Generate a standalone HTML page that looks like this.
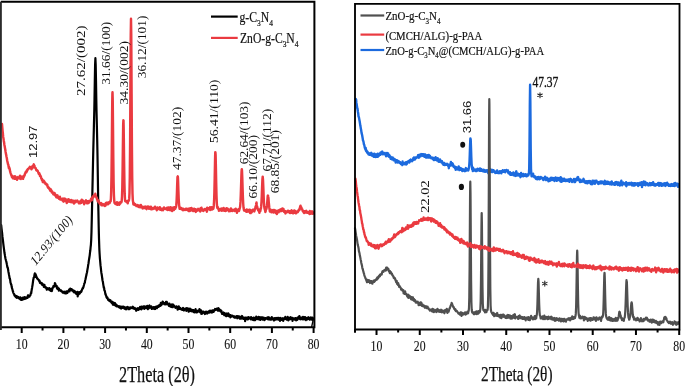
<!DOCTYPE html><html><head><meta charset="utf-8"><style>html,body{margin:0;padding:0;background:#fff;overflow:hidden}svg{display:block;filter:blur(0.35px)}.s{font-family:"Liberation Sans",sans-serif}.r{font-family:"Liberation Serif",serif}</style></head><body><svg width="685" height="386" viewBox="0 0 685 386"><rect width="685" height="386" fill="#fff"/><g fill="none" stroke-linejoin="round" stroke-linecap="round"><polyline stroke="#000" stroke-width="2.2" points="1.20,225.09 1.50,228.04 1.80,230.69 2.10,232.97 2.40,236.20 2.70,238.64 3.00,240.85 3.30,243.63 3.60,246.03 3.90,248.44 4.20,250.68 4.50,253.02 4.80,254.58 5.00,255.94 5.10,256.37 5.40,258.29 5.70,259.43 6.00,260.56 6.30,261.57 6.60,263.03 6.90,264.44 7.00,264.79 7.20,266.35 7.50,267.68 7.80,267.75 8.10,269.57 8.40,271.71 8.70,273.09 9.00,274.78 9.30,276.21 9.60,278.37 9.90,278.52 10.20,280.20 10.50,282.53 10.80,283.30 11.00,284.17 11.10,284.12 11.40,284.98 11.70,287.04 12.00,288.31 12.30,288.95 12.60,290.27 12.90,291.49 13.00,291.32 13.20,292.26 13.50,293.10 13.80,293.75 14.10,294.05 14.40,295.24 14.70,295.91 15.00,295.91 15.30,295.43 15.60,296.77 15.90,296.14 16.20,297.36 16.50,296.13 16.80,297.78 17.10,297.25 17.40,296.48 17.70,297.32 18.00,297.74 18.30,298.04 18.60,297.22 18.90,297.26 19.20,298.39 19.50,298.01 19.80,298.68 20.10,299.20 20.40,297.42 20.70,299.01 21.00,299.87 21.30,298.70 21.60,298.31 21.90,299.63 22.00,299.22 22.20,299.74 22.50,298.68 22.80,297.71 23.10,298.75 23.40,298.40 23.70,299.26 24.00,298.69 24.30,297.16 24.60,297.37 24.90,298.83 25.20,298.55 25.50,297.41 25.80,297.78 26.00,298.05 26.10,298.03 26.40,298.24 26.70,297.66 27.00,297.28 27.30,297.05 27.60,297.96 27.90,295.29 28.20,296.77 28.50,296.74 28.80,295.49 29.00,296.64 29.10,295.86 29.40,296.61 29.70,295.59 30.00,295.62 30.30,295.38 30.60,294.27 30.90,292.89 31.00,292.34 31.20,293.24 31.50,291.09 31.80,289.24 32.10,287.70 32.40,285.73 32.50,285.48 32.70,283.88 33.00,281.61 33.30,279.30 33.50,278.80 33.60,277.78 33.90,277.54 34.20,277.06 34.50,274.70 34.80,273.43 35.10,275.20 35.20,276.86 35.40,274.07 35.70,274.41 36.00,276.09 36.30,276.04 36.60,276.93 36.90,277.63 37.00,278.32 37.20,278.06 37.50,278.93 37.80,279.09 38.10,279.09 38.40,279.82 38.70,279.81 39.00,280.81 39.30,280.44 39.60,280.82 39.90,282.85 40.00,281.96 40.20,282.19 40.50,282.90 40.80,282.60 41.10,283.04 41.40,283.79 41.70,283.99 42.00,283.30 42.30,284.95 42.60,284.25 42.90,284.20 43.20,284.58 43.50,285.20 43.80,286.87 44.00,285.08 44.10,286.10 44.40,284.75 44.70,286.50 45.00,287.39 45.30,286.86 45.60,286.84 45.90,287.70 46.20,288.27 46.50,288.48 46.80,289.65 47.10,288.57 47.40,288.16 47.70,288.67 48.00,288.84 48.30,289.11 48.60,289.13 48.90,289.41 49.20,288.10 49.50,290.16 49.80,289.15 50.10,288.74 50.40,290.27 50.70,290.88 51.00,290.21 51.30,289.86 51.60,288.88 51.90,291.17 52.20,289.45 52.50,287.75 52.80,287.52 53.10,287.55 53.40,286.07 53.70,286.65 54.00,285.82 54.30,286.56 54.60,286.14 54.90,283.18 55.20,285.24 55.50,284.05 55.80,286.26 56.10,285.92 56.40,286.55 56.70,286.01 57.00,288.25 57.30,288.85 57.60,287.35 57.90,288.65 58.00,288.04 58.20,288.68 58.50,288.13 58.80,290.56 59.10,288.91 59.40,289.66 59.70,290.49 60.00,289.96 60.30,290.50 60.60,290.51 60.90,291.04 61.20,290.49 61.50,291.21 61.80,291.55 62.00,291.55 62.10,291.89 62.40,291.76 62.70,292.70 63.00,292.02 63.30,292.29 63.60,292.01 63.90,292.24 64.20,291.77 64.50,293.26 64.80,292.02 65.10,292.40 65.40,293.35 65.70,293.42 66.00,292.76 66.30,291.44 66.60,293.27 66.90,292.97 67.20,291.56 67.50,292.83 67.80,291.53 68.10,290.94 68.40,291.42 68.70,290.91 69.00,290.84 69.30,289.30 69.60,291.37 69.90,289.43 70.20,288.51 70.50,289.98 70.80,289.13 71.00,289.68 71.10,289.13 71.40,289.44 71.70,289.83 72.00,289.36 72.30,290.63 72.60,290.16 72.90,290.21 73.20,291.16 73.50,291.71 73.80,291.50 74.00,291.17 74.10,292.32 74.40,290.77 74.70,291.51 75.00,292.49 75.30,291.67 75.60,292.88 75.90,293.01 76.20,293.90 76.50,292.69 76.80,293.04 77.10,293.90 77.40,291.75 77.70,296.34 78.00,293.21 78.30,293.18 78.60,294.36 78.90,293.53 79.20,292.09 79.50,293.64 79.80,293.55 80.10,292.38 80.40,292.21 80.70,292.44 81.00,291.20 81.30,291.70 81.60,291.06 81.90,289.99 82.20,288.96 82.50,288.90 82.80,287.83 83.00,288.32 83.10,287.62 83.40,287.12 83.70,285.91 84.00,285.01 84.30,283.51 84.60,283.09 84.90,282.46 85.00,281.17 85.20,280.26 85.50,279.20 85.80,277.75 86.10,276.27 86.40,275.13 86.70,273.45 87.00,272.52 87.30,270.36 87.60,268.71 87.90,267.09 88.20,264.80 88.50,263.48 88.80,260.93 89.10,259.05 89.40,257.29 89.70,255.30 90.00,252.60 90.30,250.53 90.60,247.45 90.90,244.77 91.20,239.99 91.50,231.43 91.80,218.47 92.10,204.38 92.20,199.98 92.40,191.14 92.70,177.28 93.00,163.33 93.30,149.96 93.60,137.92 93.90,126.33 94.20,114.25 94.30,110.03 94.50,99.57 94.80,81.04 95.10,64.75 95.40,58.19 95.70,64.73 96.00,80.50 96.30,99.33 96.50,109.93 96.60,114.52 96.90,127.10 97.20,140.20 97.40,150.01 97.50,155.57 97.80,174.67 98.10,194.14 98.20,199.97 98.40,211.14 98.70,226.55 98.90,234.86 99.00,238.69 99.30,247.82 99.40,250.12 99.60,253.59 99.90,258.33 100.20,261.61 100.50,265.14 100.80,267.70 101.10,270.54 101.40,272.92 101.70,274.49 102.00,276.69 102.20,278.01 102.30,279.03 102.60,280.74 102.90,281.85 103.20,284.12 103.50,285.83 103.80,287.87 104.00,287.34 104.10,288.25 104.40,290.37 104.70,290.58 105.00,291.82 105.30,293.65 105.50,294.51 105.60,293.93 105.90,295.33 106.20,295.83 106.50,297.27 106.80,297.04 107.10,298.19 107.40,297.57 107.70,298.47 108.00,298.94 108.30,300.12 108.60,300.10 108.90,299.50 109.20,300.77 109.50,301.10 109.80,300.75 110.00,300.82 110.10,300.95 110.40,300.16 110.70,301.73 111.00,302.02 111.30,301.49 111.60,302.87 111.90,301.61 112.20,302.43 112.50,302.71 112.80,304.70 113.10,302.34 113.40,304.11 113.70,304.59 114.00,304.38 114.30,305.16 114.60,303.73 114.90,302.94 115.00,305.27 115.20,303.92 115.50,304.73 115.80,304.26 116.10,306.09 116.40,306.11 116.70,305.08 117.00,306.45 117.30,306.01 117.60,305.95 117.90,306.24 118.20,306.17 118.50,306.92 118.80,306.80 119.10,306.38 119.40,307.55 119.70,306.34 120.00,307.13 120.30,307.30 120.60,308.22 120.90,306.68 121.20,308.56 121.50,307.35 121.80,307.11 122.10,306.77 122.40,307.85 122.70,307.45 123.00,306.55 123.30,306.56 123.60,307.07 123.90,306.99 124.20,308.49 124.50,308.75 124.80,308.33 125.00,307.90 125.10,307.24 125.40,307.65 125.70,308.35 126.00,309.41 126.30,308.38 126.60,307.36 126.90,307.63 127.20,307.19 127.50,306.93 127.80,307.44 128.10,307.77 128.40,309.16 128.70,307.64 129.00,308.75 129.30,309.10 129.60,307.67 129.90,308.97 130.00,308.21 130.20,307.25 130.50,307.84 130.80,307.65 131.10,307.47 131.40,307.53 131.70,307.86 132.00,308.14 132.30,307.12 132.60,307.89 132.90,306.73 133.20,308.23 133.50,308.59 133.80,308.28 134.10,308.45 134.40,308.76 134.70,307.80 135.00,308.21 135.30,308.88 135.60,309.34 135.90,308.95 136.20,310.74 136.50,308.75 136.80,309.70 137.10,310.00 137.40,308.94 137.70,308.40 138.00,308.10 138.30,309.21 138.60,309.90 138.90,309.13 139.20,308.93 139.50,308.37 139.80,308.93 140.10,306.74 140.40,308.36 140.70,308.05 141.00,306.84 141.30,309.46 141.60,306.57 141.90,306.73 142.00,306.61 142.20,308.50 142.50,306.82 142.80,308.08 143.10,307.99 143.40,307.69 143.70,306.36 144.00,306.92 144.30,308.80 144.60,306.31 144.90,306.67 145.20,307.21 145.50,308.01 145.80,307.53 146.10,307.92 146.40,306.39 146.70,308.07 147.00,307.74 147.30,305.90 147.60,308.54 147.90,309.16 148.20,306.57 148.50,307.26 148.80,308.39 149.10,305.95 149.40,305.51 149.70,306.10 150.00,306.72 150.30,306.72 150.60,307.74 150.90,307.49 151.20,306.30 151.50,307.83 151.80,308.95 152.10,308.47 152.40,308.37 152.70,307.66 153.00,308.51 153.30,307.01 153.60,308.46 153.90,307.83 154.20,308.88 154.50,308.37 154.80,307.08 155.00,308.11 155.10,309.02 155.40,307.04 155.70,307.43 156.00,307.15 156.30,306.47 156.60,308.11 156.90,308.17 157.20,307.59 157.50,306.99 157.80,306.58 158.00,306.68 158.10,305.90 158.40,306.89 158.70,306.76 159.00,306.43 159.30,305.14 159.60,305.29 159.90,304.85 160.20,305.93 160.50,304.54 160.80,302.84 161.10,304.21 161.40,305.09 161.70,304.04 162.00,304.06 162.30,303.30 162.60,301.58 162.80,301.67 162.90,302.15 163.20,303.11 163.50,303.51 163.80,303.87 164.10,303.11 164.40,304.22 164.70,303.34 165.00,303.11 165.30,304.43 165.60,303.18 165.90,301.89 166.20,303.30 166.50,304.31 166.80,301.94 167.10,304.17 167.40,304.28 167.70,303.49 168.00,303.51 168.30,304.39 168.60,304.37 168.90,305.90 169.20,305.23 169.50,303.67 169.80,304.31 170.10,305.63 170.40,306.65 170.70,305.47 171.00,305.45 171.30,306.77 171.60,305.29 171.90,305.13 172.00,304.26 172.20,305.04 172.50,307.26 172.80,304.49 173.10,305.72 173.40,304.71 173.70,306.01 174.00,306.72 174.30,305.95 174.60,306.82 174.90,306.93 175.20,306.85 175.50,307.95 175.80,307.35 176.10,306.64 176.40,306.47 176.70,306.46 177.00,307.60 177.30,307.10 177.60,309.59 177.90,309.01 178.00,307.43 178.20,307.41 178.50,309.09 178.80,306.41 179.10,307.63 179.40,308.84 179.70,307.49 180.00,307.94 180.30,308.15 180.60,309.05 180.90,308.75 181.20,309.06 181.50,309.32 181.80,308.98 182.10,309.92 182.40,308.57 182.70,308.11 183.00,307.92 183.30,308.13 183.60,309.06 183.90,310.40 184.20,309.78 184.50,309.22 184.80,308.90 185.00,309.37 185.10,309.49 185.40,309.40 185.70,308.73 186.00,309.56 186.30,310.82 186.60,308.22 186.90,309.85 187.20,308.33 187.50,310.27 187.80,309.52 188.10,308.44 188.40,310.28 188.70,311.73 189.00,310.34 189.30,311.24 189.60,310.25 189.90,308.55 190.20,310.77 190.50,310.05 190.80,309.23 191.10,311.12 191.40,310.75 191.70,310.12 192.00,311.31 192.30,309.95 192.60,311.24 192.90,310.04 193.20,311.29 193.50,310.07 193.80,312.21 194.10,311.30 194.40,312.32 194.70,310.58 195.00,310.91 195.30,312.04 195.60,309.16 195.90,310.58 196.20,312.34 196.50,311.92 196.80,312.39 197.10,311.37 197.40,312.13 197.70,311.11 198.00,310.62 198.30,310.39 198.60,311.37 198.90,311.41 199.20,311.38 199.50,309.01 199.80,310.33 200.00,311.56 200.10,312.25 200.40,311.58 200.70,311.38 201.00,310.26 201.30,313.85 201.60,311.34 201.90,313.66 202.20,313.61 202.50,312.61 202.80,311.95 203.10,312.57 203.40,311.55 203.70,312.75 204.00,312.56 204.30,313.02 204.60,313.39 204.90,314.07 205.00,312.27 205.20,313.48 205.50,311.92 205.80,311.83 206.10,312.05 206.40,311.73 206.70,313.33 207.00,313.26 207.30,313.51 207.60,312.40 207.90,312.61 208.20,311.86 208.50,311.35 208.80,312.61 209.10,312.41 209.40,311.24 209.70,312.55 210.00,310.61 210.30,311.82 210.60,311.39 210.90,311.41 211.20,310.90 211.50,312.48 211.80,312.10 212.00,312.55 212.10,311.68 212.40,310.47 212.70,311.09 213.00,310.34 213.30,311.44 213.60,311.84 213.90,311.01 214.20,310.15 214.50,310.14 214.80,310.39 215.10,308.99 215.40,310.01 215.70,309.89 216.00,309.18 216.30,309.14 216.60,309.49 216.90,308.61 217.20,308.54 217.50,309.84 217.60,309.37 217.80,310.57 218.10,308.52 218.40,308.11 218.70,310.31 219.00,310.54 219.30,309.65 219.60,309.47 219.90,310.75 220.20,309.95 220.50,311.22 220.80,310.30 221.10,311.91 221.40,310.86 221.70,312.41 222.00,313.90 222.30,312.74 222.60,313.68 222.90,312.77 223.20,312.73 223.50,312.42 223.80,314.49 224.10,313.79 224.40,315.21 224.70,313.19 225.00,314.04 225.30,314.40 225.60,315.55 225.90,315.98 226.20,314.17 226.50,313.89 226.80,313.52 227.10,316.03 227.40,315.01 227.70,314.66 228.00,315.22 228.30,313.32 228.60,314.07 228.90,316.26 229.20,315.92 229.50,315.80 229.80,314.97 230.10,316.31 230.40,317.34 230.70,315.01 231.00,316.08 231.30,315.79 231.60,316.50 231.90,316.29 232.20,316.22 232.50,315.69 232.80,316.45 233.10,316.03 233.40,316.46 233.70,316.59 234.00,317.23 234.30,316.27 234.60,316.53 234.90,317.72 235.00,316.68 235.20,316.67 235.50,317.64 235.80,317.20 236.10,317.09 236.40,317.24 236.70,316.09 237.00,317.53 237.30,318.28 237.60,317.71 237.90,315.99 238.20,317.55 238.50,316.61 238.80,317.20 239.10,317.54 239.40,316.48 239.70,318.61 240.00,317.48 240.30,318.23 240.60,318.13 240.90,318.75 241.20,318.66 241.50,316.48 241.80,317.77 242.10,315.98 242.40,317.41 242.70,318.41 243.00,318.60 243.30,318.94 243.60,317.57 243.90,318.17 244.20,318.01 244.50,319.00 244.80,319.29 245.00,317.67 245.10,321.15 245.40,317.99 245.70,317.70 246.00,318.53 246.30,318.68 246.60,318.51 246.90,317.52 247.20,319.32 247.50,318.14 247.80,319.40 248.10,319.29 248.40,317.06 248.70,317.32 249.00,317.32 249.30,318.38 249.60,318.23 249.90,318.42 250.20,317.52 250.50,318.58 250.80,319.41 251.10,317.11 251.40,318.08 251.70,318.47 252.00,318.16 252.30,318.11 252.60,319.78 252.90,319.38 253.20,319.02 253.50,317.67 253.80,320.21 254.10,318.63 254.40,317.85 254.70,318.06 255.00,317.94 255.30,320.15 255.60,318.54 255.90,318.43 256.20,316.57 256.50,319.02 256.80,317.51 257.10,317.46 257.40,318.94 257.70,317.70 258.00,319.14 258.30,319.39 258.60,316.94 258.90,318.34 259.20,317.14 259.50,318.42 259.80,319.25 260.00,317.34 260.10,320.01 260.40,318.24 260.70,317.51 261.00,318.41 261.30,319.19 261.60,317.37 261.90,318.55 262.20,317.39 262.50,319.58 262.80,318.70 263.10,318.22 263.40,319.46 263.70,317.51 264.00,318.28 264.30,320.18 264.60,318.53 264.90,319.78 265.20,318.81 265.50,318.07 265.80,318.46 266.10,318.74 266.40,318.34 266.70,318.00 267.00,318.05 267.30,317.47 267.60,318.82 267.90,319.07 268.20,319.38 268.50,317.23 268.80,319.45 269.10,318.76 269.40,317.58 269.70,318.88 270.00,319.49 270.30,319.25 270.60,319.43 270.90,319.63 271.20,319.59 271.50,318.82 271.80,317.10 272.10,318.22 272.40,319.17 272.70,318.48 273.00,319.47 273.30,319.57 273.60,318.94 273.90,320.50 274.20,318.09 274.50,319.71 274.80,318.53 275.10,318.27 275.40,319.44 275.70,318.42 276.00,319.68 276.30,317.97 276.60,318.99 276.90,318.25 277.20,318.77 277.50,318.65 277.80,318.02 278.10,319.53 278.40,317.92 278.70,318.15 279.00,319.74 279.30,319.81 279.60,319.55 279.90,319.27 280.00,320.92 280.20,317.96 280.50,318.35 280.80,318.14 281.10,319.75 281.40,319.23 281.70,319.92 282.00,319.80 282.30,318.79 282.60,318.28 282.90,318.13 283.20,320.84 283.50,319.79 283.80,319.46 284.10,318.67 284.40,318.79 284.70,318.66 285.00,318.67 285.30,316.91 285.60,318.88 285.90,318.61 286.20,319.17 286.50,319.10 286.80,319.63 287.10,318.90 287.40,319.58 287.70,316.73 288.00,317.96 288.30,320.34 288.60,317.84 288.90,318.63 289.20,319.46 289.50,318.11 289.80,319.46 290.10,317.63 290.40,317.22 290.70,317.70 291.00,317.42 291.30,318.79 291.60,318.53 291.90,319.07 292.20,317.91 292.50,320.92 292.80,318.69 293.10,318.72 293.40,319.14 293.70,318.54 294.00,318.20 294.30,318.80 294.60,319.50 294.90,319.28 295.20,319.50 295.50,318.22 295.80,318.04 296.10,320.38 296.40,318.47 296.70,319.07 297.00,319.28 297.30,319.85 297.60,317.50 297.90,318.23 298.20,318.27 298.50,318.37 298.80,316.58 299.10,318.53 299.40,316.16 299.70,318.85 300.00,319.05 300.30,319.09 300.60,317.56 300.90,319.38 301.20,317.84 301.50,317.52 301.80,317.72 302.10,317.83 302.40,318.69 302.70,319.23 303.00,316.75 303.30,318.06 303.60,319.28 303.90,318.68 304.20,318.93 304.50,317.23 304.80,319.30 305.10,317.16 305.40,318.64 305.70,319.62 306.00,320.05 306.30,318.89 306.60,319.20 306.90,317.93 307.20,318.03 307.50,319.42 307.80,318.43 308.10,318.31 308.40,317.22 308.70,318.53 309.00,318.94 309.30,317.72 309.60,317.95 309.90,319.71 310.20,318.52 310.50,318.12 310.80,317.39 311.10,317.82 311.40,318.13 311.70,319.49 312.00,317.81 312.30,319.83 312.60,317.53 312.90,318.00 313.00,319.01"/><polyline stroke="#ea3a40" stroke-width="2.45" points="2.00,124.04 2.30,127.63 2.60,131.05 2.90,133.48 3.00,135.48 3.20,136.94 3.50,138.65 3.80,140.96 4.00,142.09 4.10,142.47 4.40,144.89 4.70,146.33 5.00,148.15 5.30,149.77 5.60,151.93 5.90,153.41 6.00,154.19 6.20,154.87 6.50,156.76 6.80,157.99 7.10,160.18 7.40,161.42 7.70,162.86 8.00,164.17 8.30,164.71 8.60,166.59 8.90,168.21 9.20,167.45 9.50,168.33 9.80,169.36 10.00,171.10 10.10,171.07 10.40,172.52 10.70,173.41 11.00,174.21 11.30,175.17 11.60,175.69 11.90,176.86 12.00,175.62 12.20,176.26 12.50,176.97 12.80,178.32 13.10,176.63 13.40,176.55 13.70,177.07 14.00,178.38 14.30,177.52 14.60,178.85 14.90,176.22 15.00,178.75 15.20,178.68 15.50,176.59 15.80,177.93 16.10,178.83 16.40,177.87 16.70,178.65 17.00,179.82 17.30,178.03 17.60,177.56 17.90,177.14 18.20,178.35 18.50,177.63 18.80,177.64 19.00,177.71 19.10,178.35 19.40,176.89 19.70,176.50 20.00,175.73 20.30,178.77 20.60,177.81 20.90,178.99 21.20,177.70 21.50,177.06 21.80,178.05 22.10,177.55 22.40,176.55 22.70,176.81 23.00,178.89 23.30,177.59 23.60,177.27 23.90,176.35 24.20,175.52 24.50,175.70 24.80,174.45 25.10,173.38 25.40,173.03 25.70,171.97 26.00,172.11 26.30,172.28 26.60,170.62 26.90,171.65 27.20,169.91 27.50,170.06 27.80,169.05 28.10,169.13 28.40,169.01 28.70,168.41 29.00,167.99 29.30,167.81 29.60,167.53 29.90,166.80 30.20,167.67 30.50,168.05 30.80,168.33 31.10,168.01 31.40,169.27 31.70,167.49 32.00,166.76 32.30,168.26 32.60,165.94 32.90,167.13 33.20,165.52 33.50,166.30 33.80,164.34 34.00,166.65 34.10,165.79 34.40,165.50 34.70,167.58 35.00,167.59 35.30,167.83 35.60,168.04 35.90,169.01 36.00,169.10 36.20,169.95 36.50,170.44 36.80,169.97 37.10,170.47 37.40,170.91 37.70,170.82 38.00,171.72 38.30,172.45 38.60,173.34 38.90,174.12 39.20,173.15 39.50,174.43 39.80,174.28 40.00,176.10 40.10,175.06 40.40,176.04 40.70,176.14 41.00,177.09 41.30,178.45 41.60,178.92 41.90,179.95 42.00,178.93 42.20,180.59 42.50,179.93 42.80,182.02 43.10,180.92 43.40,182.15 43.70,180.63 44.00,182.16 44.30,181.48 44.60,182.04 44.90,182.70 45.00,182.58 45.20,183.20 45.50,183.89 45.80,184.23 46.10,184.19 46.40,183.83 46.70,184.63 47.00,185.45 47.30,184.69 47.60,186.92 47.90,186.71 48.00,186.83 48.20,187.86 48.50,188.08 48.80,188.20 49.10,187.82 49.40,189.05 49.70,189.47 50.00,189.06 50.30,190.69 50.60,190.72 50.90,189.46 51.20,191.19 51.50,190.61 51.80,192.54 52.00,192.54 52.10,191.35 52.40,191.80 52.70,192.77 53.00,192.83 53.30,194.33 53.60,194.07 53.90,193.64 54.20,194.50 54.50,192.94 54.80,194.83 55.10,195.48 55.40,194.99 55.70,194.85 56.00,195.99 56.30,197.22 56.60,196.21 56.90,195.50 57.20,197.57 57.50,195.42 57.80,197.35 58.10,196.79 58.40,198.10 58.70,197.01 59.00,198.79 59.30,198.23 59.60,196.89 59.90,196.85 60.00,198.15 60.20,199.47 60.50,198.73 60.80,198.83 61.10,198.73 61.40,199.61 61.70,199.46 62.00,199.51 62.30,198.65 62.60,200.45 62.90,200.70 63.20,198.73 63.50,201.65 63.80,200.51 64.10,199.65 64.40,198.62 64.70,200.73 65.00,200.74 65.30,199.89 65.60,199.01 65.90,201.42 66.20,200.11 66.50,200.27 66.80,203.01 67.10,202.49 67.40,201.60 67.70,200.52 68.00,201.47 68.30,199.14 68.60,201.14 68.90,200.49 69.20,200.11 69.50,199.91 69.80,201.68 70.00,201.36 70.10,201.44 70.40,202.04 70.70,200.72 71.00,200.46 71.30,200.08 71.60,201.31 71.90,202.25 72.20,201.57 72.50,202.26 72.80,200.82 73.10,201.45 73.40,201.24 73.70,200.88 74.00,203.49 74.30,202.68 74.60,201.34 74.90,201.34 75.00,201.94 75.20,200.76 75.50,202.36 75.80,200.89 76.10,201.67 76.40,201.11 76.70,201.58 77.00,200.85 77.30,200.65 77.60,201.16 77.90,201.41 78.20,201.73 78.50,202.04 78.80,203.28 79.10,202.67 79.40,201.77 79.70,202.60 80.00,201.40 80.30,203.21 80.60,202.45 80.90,200.83 81.20,202.62 81.50,202.68 81.80,199.70 82.10,201.35 82.40,201.58 82.70,200.34 83.00,201.07 83.30,201.17 83.60,202.41 83.90,202.23 84.20,204.21 84.50,201.64 84.80,202.96 85.10,202.05 85.40,202.21 85.70,200.99 86.00,200.35 86.30,201.32 86.60,202.62 86.90,203.32 87.20,202.49 87.50,202.40 87.80,201.26 88.00,203.27 88.10,203.09 88.40,201.49 88.70,201.77 89.00,200.90 89.30,202.49 89.60,201.49 89.90,200.88 90.20,200.96 90.50,200.71 90.80,199.85 91.00,199.10 91.10,198.99 91.40,198.42 91.70,199.50 92.00,200.19 92.30,197.31 92.60,197.98 92.90,197.68 93.20,196.37 93.50,196.67 93.80,195.43 94.10,196.60 94.40,195.09 94.70,195.38 95.00,195.73 95.20,194.80 95.30,193.81 95.60,195.19 95.90,196.54 96.20,196.89 96.50,197.89 96.80,197.95 97.00,199.03 97.10,199.55 97.40,199.65 97.70,201.28 98.00,200.46 98.30,200.37 98.60,200.40 98.90,202.57 99.00,201.89 99.20,202.83 99.50,202.80 99.80,203.90 100.10,203.96 100.40,203.09 100.70,203.80 101.00,204.60 101.30,203.11 101.60,205.27 101.90,205.30 102.20,205.33 102.50,204.64 102.80,205.18 103.10,204.21 103.40,205.22 103.70,204.75 104.00,205.33 104.30,204.82 104.60,205.38 104.90,205.97 105.20,203.93 105.50,205.48 105.80,203.13 106.10,202.84 106.40,204.20 106.70,204.14 107.00,204.32 107.30,202.60 107.60,203.62 107.90,203.57 108.20,204.22 108.50,203.05 108.80,203.38 109.00,202.14 109.10,202.72 109.40,202.40 109.70,203.10 110.00,201.69 110.30,201.53 110.60,201.29 110.90,198.78 111.20,191.32 111.50,175.19 111.80,147.88 112.10,115.40 112.25,101.96 112.40,93.84 112.50,92.29 112.70,98.51 112.75,102.00 113.00,126.11 113.30,158.33 113.60,182.25 113.90,195.06 114.20,200.07 114.50,202.98 114.80,203.17 115.10,202.80 115.40,203.99 115.70,203.88 116.00,203.51 116.30,202.71 116.60,204.35 116.90,204.62 117.00,202.25 117.20,204.85 117.50,204.79 117.80,203.82 118.10,204.08 118.40,203.61 118.70,203.03 119.00,203.32 119.30,204.69 119.60,202.36 119.90,203.66 120.20,203.53 120.50,202.73 120.80,202.79 121.00,201.99 121.10,202.30 121.40,202.34 121.70,200.99 122.00,196.78 122.30,187.47 122.60,169.27 122.90,144.97 123.15,126.74 123.20,124.12 123.40,120.29 123.50,120.38 123.65,126.73 123.80,136.83 124.10,161.25 124.40,181.91 124.70,193.91 125.00,199.94 125.30,201.15 125.60,201.35 125.90,200.75 126.20,201.25 126.50,201.85 126.80,201.50 127.00,201.31 127.10,201.75 127.40,202.11 127.70,203.33 128.00,200.80 128.30,201.49 128.60,200.99 128.90,200.26 129.20,198.65 129.50,192.74 129.80,176.77 130.10,143.54 130.40,93.10 130.70,41.72 130.75,35.11 131.00,18.69 131.25,35.22 131.30,41.82 131.60,93.39 131.90,143.97 132.20,177.29 132.50,193.45 132.80,200.08 133.10,201.97 133.40,204.45 133.70,202.88 134.00,204.22 134.30,203.66 134.60,204.40 134.90,205.05 135.20,204.07 135.50,204.77 135.80,205.13 136.00,205.20 136.10,205.62 136.40,206.09 136.70,206.10 137.00,205.82 137.30,205.51 137.60,205.07 137.90,205.51 138.20,205.80 138.50,206.86 138.80,206.18 139.10,205.60 139.40,207.17 139.70,206.12 140.00,206.21 140.30,206.70 140.60,207.33 140.90,205.03 141.20,206.13 141.50,207.24 141.80,206.84 142.10,206.47 142.40,206.78 142.70,208.41 143.00,206.93 143.30,207.93 143.60,208.03 143.90,207.03 144.20,207.81 144.50,207.09 144.80,206.99 145.10,206.59 145.40,208.28 145.70,207.25 146.00,207.15 146.30,206.70 146.60,209.16 146.90,208.30 147.20,207.60 147.50,207.15 147.80,206.48 148.10,208.03 148.40,208.05 148.70,206.66 149.00,208.82 149.30,208.53 149.60,207.11 149.90,207.48 150.00,207.59 150.20,208.10 150.50,207.87 150.80,206.66 151.10,209.28 151.40,208.35 151.70,209.16 152.00,209.18 152.30,208.00 152.60,208.49 152.90,208.85 153.20,208.91 153.50,208.16 153.80,207.82 154.10,208.39 154.40,207.72 154.70,207.96 155.00,206.76 155.30,208.55 155.60,207.65 155.90,208.07 156.20,208.51 156.50,208.84 156.80,210.18 157.10,208.80 157.40,207.47 157.70,208.78 158.00,208.19 158.30,209.04 158.60,208.14 158.90,208.13 159.20,208.31 159.50,208.22 159.80,207.22 160.00,208.20 160.10,208.75 160.40,209.79 160.70,208.53 161.00,208.46 161.30,209.27 161.60,209.24 161.90,210.14 162.20,209.29 162.50,208.78 162.80,209.93 163.10,210.10 163.40,208.40 163.70,208.94 164.00,207.38 164.30,208.50 164.60,208.06 164.90,208.63 165.20,208.40 165.50,208.67 165.80,208.72 166.10,209.23 166.40,209.01 166.70,208.34 167.00,207.72 167.30,209.86 167.60,210.02 167.90,208.43 168.20,209.29 168.50,207.52 168.80,207.49 169.10,208.59 169.40,210.07 169.70,207.93 170.00,208.11 170.30,210.18 170.60,207.21 170.90,209.36 171.20,209.23 171.50,208.64 171.80,208.97 172.10,211.02 172.40,207.84 172.70,208.52 173.00,208.58 173.30,208.18 173.60,207.62 173.90,210.04 174.20,208.86 174.50,207.21 174.80,208.01 175.10,208.79 175.40,208.61 175.70,207.17 176.00,207.12 176.30,205.16 176.60,200.83 176.90,193.57 177.20,184.19 177.45,178.05 177.50,176.89 177.70,176.59 177.80,176.32 177.95,177.78 178.10,181.35 178.40,190.71 178.70,198.73 179.00,203.97 179.30,206.44 179.60,208.79 179.90,208.11 180.20,207.58 180.50,208.40 180.80,207.92 181.10,209.04 181.40,208.63 181.70,208.16 182.00,209.56 182.30,208.57 182.60,209.73 182.90,210.21 183.20,208.89 183.50,208.67 183.80,209.40 184.10,210.00 184.40,209.27 184.70,209.41 185.00,209.29 185.30,209.59 185.60,209.87 185.90,208.77 186.20,208.97 186.50,209.43 186.80,208.84 187.10,209.53 187.40,209.88 187.70,209.43 188.00,208.95 188.30,208.82 188.60,210.96 188.90,210.24 189.20,208.58 189.50,208.82 189.80,211.12 190.00,210.82 190.10,209.67 190.40,210.55 190.70,208.34 191.00,209.61 191.30,210.24 191.60,208.08 191.90,209.01 192.20,210.33 192.50,210.65 192.80,209.22 193.10,209.98 193.40,211.10 193.70,209.46 194.00,208.69 194.30,209.77 194.60,209.51 194.90,210.95 195.20,210.01 195.50,209.23 195.80,211.93 196.10,209.51 196.40,210.35 196.70,210.53 197.00,210.64 197.30,210.14 197.60,210.50 197.90,209.96 198.20,208.83 198.50,209.85 198.80,209.87 199.10,209.90 199.40,210.17 199.70,209.52 200.00,211.18 200.30,211.38 200.60,208.19 200.90,210.04 201.20,209.42 201.50,207.82 201.80,210.33 202.10,209.45 202.40,209.63 202.70,209.37 203.00,210.79 203.30,210.89 203.60,210.06 203.90,210.37 204.20,209.67 204.50,209.85 204.80,209.08 205.10,209.69 205.40,209.04 205.70,209.90 206.00,210.24 206.30,209.78 206.60,210.47 206.90,211.68 207.20,207.68 207.50,209.40 207.80,208.89 208.10,208.95 208.40,208.17 208.70,209.31 209.00,209.03 209.30,208.69 209.60,208.98 209.90,208.68 210.00,207.21 210.20,210.04 210.50,208.87 210.80,208.30 211.10,209.30 211.40,208.46 211.70,207.19 212.00,209.57 212.30,207.46 212.60,208.47 212.90,208.53 213.20,208.89 213.50,207.81 213.80,205.42 214.10,200.68 214.40,191.73 214.70,177.98 215.00,162.49 215.15,156.15 215.30,152.16 215.40,152.36 215.60,154.48 215.65,156.08 215.90,167.38 216.20,183.07 216.50,195.45 216.80,202.99 217.10,206.73 217.40,208.07 217.70,206.98 218.00,207.53 218.30,209.03 218.60,209.00 218.90,210.86 219.20,209.23 219.50,209.21 219.80,210.16 220.10,210.32 220.40,209.30 220.70,209.93 221.00,208.64 221.30,208.83 221.60,210.67 221.90,208.51 222.20,210.47 222.50,210.29 222.80,210.40 223.10,210.54 223.40,210.27 223.70,208.03 224.00,209.00 224.30,209.35 224.60,210.64 224.90,208.94 225.00,209.30 225.20,209.60 225.50,211.03 225.80,208.72 226.10,208.81 226.40,210.49 226.70,208.19 227.00,210.27 227.30,209.62 227.60,208.69 227.90,209.67 228.20,209.19 228.50,210.19 228.80,210.36 229.10,211.32 229.40,210.07 229.70,210.18 230.00,209.61 230.30,210.09 230.60,211.01 230.90,208.51 231.20,210.70 231.50,209.70 231.80,210.22 232.10,210.44 232.40,210.90 232.70,210.39 233.00,209.86 233.30,210.47 233.60,210.22 233.90,210.04 234.20,210.40 234.50,210.97 234.80,210.35 235.00,210.37 235.10,209.15 235.40,210.13 235.70,208.67 236.00,210.86 236.30,209.45 236.60,211.34 236.90,212.76 237.20,209.89 237.50,211.32 237.80,210.52 238.10,209.69 238.40,209.42 238.70,210.47 239.00,210.97 239.30,209.96 239.60,208.48 239.90,207.91 240.20,206.01 240.50,201.91 240.80,194.61 241.10,185.14 241.40,175.69 241.55,171.90 241.70,169.76 241.80,169.21 242.00,170.76 242.05,172.04 242.30,178.65 242.60,188.65 242.90,197.30 243.20,203.53 243.50,207.49 243.80,209.15 244.10,210.60 244.40,209.59 244.70,210.53 245.00,209.99 245.30,210.86 245.60,210.31 245.90,211.19 246.20,211.70 246.50,211.41 246.80,209.39 247.10,211.70 247.40,211.32 247.70,210.08 248.00,210.23 248.30,210.99 248.60,211.48 248.90,210.62 249.20,209.63 249.50,211.24 249.80,211.15 250.10,213.08 250.40,209.91 250.70,213.14 251.00,212.47 251.30,211.25 251.60,212.38 251.90,211.05 252.00,211.79 252.20,210.34 252.50,211.01 252.80,210.07 253.10,209.59 253.40,210.62 253.70,210.26 254.00,211.12 254.30,211.40 254.60,210.08 254.90,209.67 255.20,208.89 255.50,206.95 255.80,206.40 256.10,205.03 256.25,204.53 256.40,203.54 256.50,202.55 256.70,204.28 256.75,204.70 257.00,205.96 257.30,207.15 257.60,208.60 257.90,209.18 258.20,210.37 258.50,209.98 258.80,210.81 259.10,211.19 259.40,212.71 259.70,210.60 260.00,209.35 260.30,211.02 260.60,209.23 260.90,208.53 261.20,206.16 261.50,201.78 261.80,195.48 262.10,187.31 262.40,179.95 262.45,179.17 262.70,176.67 262.95,179.26 263.00,179.98 263.30,187.15 263.60,195.23 263.90,201.84 264.20,206.27 264.50,208.20 264.80,209.55 265.10,210.34 265.40,212.06 265.70,210.88 266.00,208.09 266.30,209.17 266.60,208.00 266.90,205.95 267.20,202.94 267.50,199.09 267.75,195.77 267.80,196.24 268.00,195.61 268.10,195.89 268.25,196.92 268.40,197.61 268.70,201.71 269.00,204.64 269.30,207.73 269.60,209.52 269.90,211.49 270.20,210.13 270.50,209.50 270.80,211.43 271.10,210.40 271.40,212.27 271.70,210.43 272.00,210.32 272.30,212.11 272.60,211.17 272.90,211.96 273.20,209.97 273.50,212.55 273.80,210.73 274.10,211.92 274.40,210.44 274.70,210.02 275.00,211.13 275.30,211.51 275.60,212.71 275.90,211.72 276.20,212.05 276.50,212.03 276.80,214.11 277.10,210.81 277.40,212.57 277.70,211.37 278.00,211.67 278.30,210.96 278.60,212.24 278.90,210.25 279.20,210.07 279.50,210.74 279.80,209.85 280.00,211.04 280.10,211.11 280.40,209.69 280.70,210.56 281.00,209.30 281.30,209.60 281.55,209.56 281.60,211.08 281.80,209.53 281.90,208.79 282.05,208.85 282.20,210.55 282.50,208.57 282.80,209.68 283.10,210.00 283.40,208.82 283.70,210.46 284.00,211.74 284.30,211.41 284.60,210.77 284.90,212.12 285.20,212.12 285.50,213.43 285.80,211.32 286.10,211.66 286.40,212.06 286.70,211.95 287.00,212.16 287.30,212.02 287.60,211.55 287.90,210.80 288.20,211.68 288.50,210.99 288.80,211.29 289.10,211.72 289.40,212.61 289.70,212.91 290.00,211.31 290.30,212.45 290.60,212.87 290.90,212.15 291.20,210.79 291.50,210.35 291.80,212.85 292.10,212.95 292.40,212.41 292.70,211.27 293.00,213.39 293.30,213.19 293.60,212.11 293.90,211.96 294.20,210.48 294.50,212.76 294.80,210.76 295.10,212.67 295.40,212.70 295.70,212.14 296.00,213.35 296.30,211.74 296.60,212.42 296.90,212.49 297.20,211.94 297.50,211.28 297.80,212.20 298.10,211.31 298.40,210.51 298.70,210.04 299.00,209.64 299.30,210.22 299.60,208.39 299.90,207.63 300.20,206.66 300.25,206.49 300.50,205.65 300.75,207.53 300.80,207.42 301.10,207.15 301.40,207.48 301.70,208.76 302.00,209.27 302.30,209.36 302.60,210.82 302.90,211.14 303.20,211.32 303.50,212.15 303.80,211.26 304.10,212.94 304.40,211.14 304.70,212.43 305.00,212.58 305.30,211.86 305.60,212.40 305.90,211.05 306.20,210.89 306.50,212.00 306.80,211.57 307.10,212.70 307.40,212.25 307.70,212.76 308.00,212.53 308.30,212.45 308.60,212.38 308.90,212.02 309.20,211.96 309.50,214.07 309.80,210.92 310.10,212.26 310.40,213.28 310.70,212.81 311.00,213.66 311.30,212.96 311.60,211.48 311.90,212.28 312.20,211.40 312.50,213.42 312.80,213.82 313.00,212.26"/><polyline stroke="#1c6ade" stroke-width="2.4" points="355.80,98.88 356.10,99.56 356.40,102.72 356.70,104.44 357.00,106.43 357.30,108.35 357.60,109.39 357.90,111.77 358.20,113.15 358.50,116.46 358.80,116.87 359.00,117.76 359.10,118.36 359.40,119.93 359.70,121.51 360.00,123.51 360.30,125.57 360.60,126.99 360.90,129.14 361.00,129.22 361.20,130.40 361.50,132.65 361.80,133.87 362.10,135.03 362.40,136.71 362.70,138.51 363.00,140.55 363.30,140.97 363.60,142.37 363.90,144.28 364.20,144.69 364.50,146.13 364.80,147.78 365.00,148.22 365.10,148.22 365.40,149.35 365.70,148.00 366.00,151.00 366.30,150.34 366.60,150.33 366.90,152.09 367.00,152.52 367.20,151.87 367.50,151.66 367.80,152.77 368.10,152.94 368.40,154.33 368.70,153.99 369.00,153.72 369.30,154.65 369.60,153.71 369.90,153.27 370.00,154.59 370.20,154.69 370.50,154.20 370.80,153.90 371.10,154.91 371.40,152.82 371.70,155.64 372.00,155.63 372.30,153.96 372.60,155.54 372.90,154.76 373.20,156.37 373.50,153.90 373.80,154.94 374.00,156.47 374.10,156.89 374.40,153.76 374.70,155.31 375.00,156.05 375.30,155.16 375.60,157.14 375.90,154.54 376.20,155.90 376.50,154.58 376.80,156.74 377.10,155.38 377.40,155.00 377.70,153.73 378.00,156.70 378.30,155.76 378.60,155.61 378.90,155.74 379.20,154.89 379.50,153.88 379.80,153.54 380.10,153.32 380.40,154.86 380.70,152.35 381.00,152.88 381.30,152.97 381.60,153.35 381.90,153.64 382.00,151.92 382.20,151.48 382.50,153.12 382.80,154.27 383.10,153.89 383.40,153.46 383.70,153.06 384.00,153.68 384.30,153.30 384.60,154.32 384.90,153.01 385.20,153.93 385.50,153.82 385.80,154.50 386.00,154.29 386.10,156.35 386.40,155.54 386.70,155.67 387.00,152.87 387.30,154.47 387.60,154.44 387.90,155.57 388.20,153.50 388.50,156.50 388.80,156.63 389.10,154.93 389.40,155.40 389.70,155.75 390.00,156.63 390.30,157.32 390.60,158.66 390.90,157.03 391.20,158.02 391.50,157.72 391.80,159.23 392.10,158.61 392.40,159.32 392.70,157.54 393.00,158.46 393.30,158.16 393.60,160.25 393.90,159.77 394.00,159.05 394.20,159.07 394.50,160.04 394.80,159.30 395.10,159.34 395.40,160.69 395.70,162.50 396.00,160.55 396.30,160.51 396.60,160.22 396.90,160.28 397.20,161.99 397.50,162.44 397.80,161.91 398.00,162.28 398.10,162.15 398.40,162.31 398.70,161.07 399.00,162.12 399.30,162.75 399.60,162.14 399.90,162.54 400.20,162.37 400.50,162.90 400.80,164.05 401.10,163.02 401.40,163.30 401.70,164.24 402.00,164.11 402.30,165.08 402.60,161.53 402.90,164.22 403.20,162.94 403.50,163.44 403.80,164.00 404.10,164.14 404.40,164.01 404.70,163.14 405.00,164.33 405.30,162.57 405.60,162.60 405.90,163.34 406.00,162.11 406.20,164.43 406.50,163.32 406.80,164.19 407.10,162.17 407.40,161.73 407.70,162.06 408.00,162.40 408.30,161.13 408.60,161.80 408.90,161.31 409.20,162.55 409.50,160.47 409.80,161.78 410.00,160.25 410.10,159.93 410.40,160.01 410.70,159.47 411.00,160.48 411.30,161.10 411.60,160.22 411.90,160.48 412.20,161.21 412.50,159.91 412.80,159.71 413.10,159.18 413.40,157.90 413.70,159.78 414.00,157.50 414.30,159.41 414.60,158.70 414.90,159.52 415.20,158.37 415.50,157.58 415.80,158.43 416.10,157.51 416.40,157.68 416.70,157.73 417.00,157.43 417.30,157.25 417.60,156.56 417.90,156.98 418.00,155.26 418.20,156.88 418.50,155.86 418.80,157.68 419.10,157.65 419.40,154.78 419.70,156.40 420.00,156.02 420.30,155.09 420.60,156.29 420.90,155.31 421.20,154.05 421.50,155.24 421.80,155.25 422.10,155.40 422.40,154.12 422.70,155.78 423.00,155.89 423.30,154.12 423.60,154.59 423.90,155.14 424.20,154.70 424.50,156.88 424.80,155.46 425.10,154.35 425.40,154.59 425.70,155.29 426.00,157.50 426.30,155.25 426.60,155.57 426.90,155.96 427.00,155.46 427.20,157.60 427.50,155.12 427.80,156.34 428.10,155.92 428.40,156.43 428.70,155.01 429.00,157.67 429.30,156.18 429.60,156.45 429.90,155.75 430.00,155.97 430.20,157.17 430.50,157.66 430.80,157.62 431.10,158.16 431.40,157.91 431.70,157.51 432.00,158.35 432.30,158.30 432.60,157.85 432.90,158.69 433.00,159.22 433.20,158.37 433.50,157.95 433.80,158.98 434.10,160.12 434.40,158.30 434.70,158.48 435.00,158.51 435.30,159.79 435.60,157.12 435.90,159.17 436.20,159.98 436.50,158.30 436.80,160.42 437.00,159.66 437.10,158.77 437.40,159.55 437.70,158.29 438.00,159.29 438.30,161.43 438.60,159.46 438.90,161.88 439.20,160.57 439.50,161.65 439.80,161.10 440.00,159.37 440.10,160.79 440.40,161.61 440.70,160.73 441.00,160.78 441.30,162.37 441.60,161.76 441.90,161.12 442.20,162.14 442.50,163.60 442.80,162.71 443.10,164.06 443.40,164.74 443.70,163.68 444.00,162.88 444.30,162.88 444.60,164.10 444.90,165.01 445.00,164.53 445.20,164.85 445.50,164.12 445.80,164.88 446.10,164.34 446.40,164.59 446.70,163.86 447.00,163.72 447.30,164.77 447.60,164.30 447.90,164.50 448.20,166.03 448.50,165.36 448.80,168.22 449.00,166.37 449.10,164.90 449.40,166.08 449.70,165.55 450.00,164.50 450.30,165.70 450.60,163.97 450.90,161.88 451.20,164.83 451.50,163.49 451.80,165.39 452.10,163.51 452.40,163.33 452.70,165.70 453.00,164.15 453.30,165.48 453.60,166.79 453.90,166.30 454.20,166.57 454.50,167.06 454.80,167.93 455.00,166.71 455.10,167.95 455.40,168.07 455.70,169.72 456.00,167.55 456.30,167.16 456.60,168.71 456.90,167.81 457.20,168.51 457.50,168.46 457.80,169.47 458.10,167.92 458.40,168.50 458.70,166.38 459.00,167.94 459.30,170.18 459.60,168.26 459.90,168.32 460.00,167.88 460.20,169.54 460.50,169.25 460.80,168.12 461.10,169.85 461.40,169.56 461.70,170.08 462.00,168.91 462.30,171.12 462.60,170.00 462.90,169.58 463.20,169.28 463.50,169.57 463.80,170.63 464.10,169.62 464.40,170.90 464.70,170.45 465.00,171.17 465.30,170.65 465.60,169.81 465.90,168.07 466.20,170.11 466.50,170.54 466.80,169.93 467.10,170.24 467.40,169.26 467.70,169.28 468.00,168.71 468.30,170.46 468.60,169.17 468.90,168.05 469.20,165.82 469.50,161.52 469.80,153.92 470.10,144.42 470.25,140.33 470.40,138.40 470.50,138.82 470.70,139.59 470.75,140.55 471.00,147.57 471.30,156.73 471.60,163.57 471.90,166.84 472.20,169.38 472.50,169.36 472.80,171.11 473.10,167.77 473.40,170.27 473.70,170.59 474.00,169.43 474.30,170.20 474.60,170.51 474.90,170.38 475.00,169.34 475.20,169.73 475.50,170.83 475.80,171.09 476.10,170.00 476.40,170.00 476.70,170.13 477.00,170.93 477.30,168.99 477.60,168.75 477.90,170.13 478.20,168.99 478.50,169.50 478.80,170.15 479.10,170.54 479.40,169.11 479.70,170.88 480.00,168.50 480.30,170.68 480.60,168.73 480.90,169.04 481.20,170.85 481.50,169.89 481.80,169.56 482.10,169.91 482.40,170.78 482.70,170.33 483.00,170.38 483.30,171.41 483.60,169.79 483.90,170.05 484.20,170.03 484.50,171.62 484.80,171.49 485.10,171.79 485.40,170.59 485.70,170.50 486.00,171.47 486.30,170.33 486.60,171.50 486.90,171.43 487.20,170.13 487.50,170.73 487.80,170.72 488.10,172.47 488.40,173.29 488.70,170.81 489.00,170.93 489.30,168.81 489.60,171.16 489.90,170.98 490.00,169.99 490.20,171.74 490.50,169.56 490.80,170.84 491.10,171.20 491.40,169.92 491.70,171.91 492.00,172.12 492.30,169.87 492.60,169.87 492.90,171.77 493.20,171.20 493.50,170.13 493.80,171.00 494.10,171.20 494.40,171.19 494.70,172.12 495.00,171.73 495.30,173.04 495.60,172.70 495.90,172.07 496.20,172.46 496.50,172.71 496.80,172.15 497.10,170.36 497.40,172.33 497.70,171.61 498.00,173.07 498.30,171.65 498.60,172.07 498.90,171.89 499.20,173.18 499.50,171.76 499.80,171.34 500.00,171.89 500.10,171.18 500.40,171.74 500.70,171.56 501.00,171.80 501.30,173.30 501.60,171.11 501.90,171.48 502.20,171.22 502.50,171.98 502.80,170.23 503.10,170.63 503.40,171.18 503.70,171.66 504.00,171.07 504.30,170.60 504.60,170.22 504.90,171.44 505.20,172.25 505.50,171.19 505.80,171.03 506.10,171.24 506.40,169.93 506.70,170.50 507.00,170.55 507.30,171.11 507.60,171.01 507.90,170.38 508.20,172.46 508.50,173.22 508.80,172.17 509.10,173.01 509.40,173.22 509.70,173.90 510.00,172.11 510.30,174.91 510.60,173.13 510.90,174.76 511.20,173.76 511.50,173.40 511.80,173.69 512.10,174.69 512.40,173.15 512.70,173.64 513.00,173.59 513.30,172.51 513.60,175.32 513.90,174.70 514.20,174.19 514.50,175.32 514.80,173.40 515.10,174.24 515.40,175.94 515.70,175.28 516.00,172.34 516.30,171.34 516.60,173.50 516.90,175.48 517.20,174.08 517.50,174.34 517.80,175.14 518.10,173.78 518.40,174.82 518.70,175.39 519.00,175.11 519.30,175.08 519.60,174.18 519.90,175.24 520.00,174.38 520.20,176.01 520.50,177.21 520.80,174.17 521.10,172.86 521.40,174.51 521.70,175.29 522.00,175.94 522.30,175.99 522.60,174.28 522.90,174.29 523.20,176.23 523.50,174.05 523.80,176.11 524.10,174.90 524.40,175.84 524.70,175.80 525.00,175.89 525.30,175.94 525.60,174.25 525.90,175.47 526.20,175.21 526.50,175.49 526.80,176.35 527.10,174.92 527.40,174.49 527.70,174.44 528.00,174.75 528.30,175.49 528.60,174.10 528.90,173.95 529.20,168.39 529.50,148.18 529.80,108.83 529.85,102.25 530.10,84.81 530.35,102.23 530.40,108.95 530.70,148.34 531.00,168.54 531.30,173.97 531.60,176.33 531.90,176.15 532.20,174.65 532.50,175.53 532.80,175.53 533.00,175.61 533.10,173.72 533.40,176.55 533.70,175.53 534.00,176.37 534.30,176.32 534.60,177.34 534.90,176.61 535.20,176.42 535.50,177.70 535.80,178.62 536.10,177.36 536.40,178.95 536.70,178.12 537.00,177.47 537.30,179.40 537.60,177.29 537.90,179.01 538.20,177.65 538.50,178.56 538.80,177.03 539.10,177.43 539.40,179.22 539.70,178.43 540.00,178.31 540.30,177.89 540.60,178.74 540.90,177.03 541.20,177.31 541.50,178.23 541.80,177.61 542.10,177.75 542.40,178.36 542.70,178.31 543.00,178.25 543.30,180.04 543.60,179.44 543.90,179.66 544.20,178.51 544.50,178.08 544.80,177.22 545.00,178.27 545.10,176.65 545.40,178.08 545.70,179.36 546.00,180.18 546.30,179.59 546.60,177.92 546.90,179.20 547.20,178.03 547.50,179.56 547.80,178.71 548.10,179.64 548.40,181.26 548.70,179.75 549.00,181.09 549.30,179.10 549.60,178.66 549.90,180.23 550.20,180.62 550.50,178.52 550.80,179.13 551.10,177.75 551.40,178.93 551.70,179.96 552.00,179.08 552.30,178.66 552.60,177.90 552.90,179.58 553.20,180.00 553.50,179.84 553.80,179.54 554.10,178.14 554.40,180.99 554.70,179.32 555.00,179.26 555.30,180.10 555.60,177.42 555.90,179.40 556.20,179.36 556.50,179.86 556.80,180.79 557.10,179.99 557.40,177.87 557.70,179.28 558.00,179.81 558.30,179.78 558.60,178.47 558.90,178.14 559.20,180.22 559.50,180.05 559.80,179.73 560.10,178.16 560.40,181.45 560.70,177.11 561.00,179.50 561.30,181.81 561.60,179.73 561.90,180.12 562.20,178.82 562.50,181.21 562.80,178.75 563.10,180.22 563.40,180.13 563.70,179.04 564.00,180.87 564.30,178.73 564.60,179.43 564.90,180.07 565.00,179.71 565.20,180.55 565.50,180.99 565.80,179.87 566.10,179.66 566.40,179.70 566.70,179.86 567.00,180.98 567.30,180.04 567.60,180.65 567.90,180.20 568.20,179.52 568.50,181.13 568.80,179.37 569.10,180.37 569.40,181.77 569.70,179.38 570.00,180.37 570.30,178.96 570.60,179.98 570.90,179.07 571.20,180.15 571.50,180.00 571.80,180.64 572.10,182.02 572.40,180.81 572.70,181.17 573.00,180.52 573.30,180.34 573.60,179.79 573.90,178.89 574.20,180.66 574.50,182.14 574.80,181.05 575.00,180.10 575.10,182.09 575.40,180.10 575.70,179.73 576.00,178.97 576.30,178.78 576.60,178.89 576.90,180.20 577.20,178.25 577.50,177.34 577.70,177.63 577.80,178.02 578.10,177.10 578.40,178.88 578.70,179.75 579.00,180.02 579.30,180.73 579.60,179.76 579.90,179.52 580.00,182.14 580.20,182.03 580.50,179.70 580.80,181.34 581.10,181.22 581.40,181.75 581.70,181.49 582.00,180.89 582.30,181.57 582.60,181.58 582.90,181.44 583.20,179.82 583.50,178.81 583.80,180.88 584.10,180.13 584.40,181.91 584.70,182.37 585.00,181.99 585.30,181.43 585.60,181.87 585.90,182.92 586.20,181.19 586.50,182.75 586.80,182.58 587.10,182.19 587.40,183.32 587.70,181.32 588.00,182.89 588.30,181.17 588.60,181.34 588.90,181.09 589.20,182.51 589.50,181.24 589.80,182.18 590.10,181.08 590.40,183.17 590.70,183.90 591.00,182.41 591.30,183.75 591.60,182.75 591.90,184.28 592.20,182.35 592.50,180.79 592.80,183.68 593.10,182.17 593.40,181.33 593.70,181.70 594.00,180.80 594.30,182.18 594.60,181.35 594.90,183.76 595.20,183.00 595.50,180.83 595.80,180.98 596.10,181.88 596.40,180.62 596.70,182.34 597.00,182.41 597.30,181.74 597.60,181.96 597.90,182.96 598.20,183.84 598.50,183.92 598.80,182.57 599.10,183.35 599.40,181.87 599.70,182.97 600.00,181.70 600.30,183.30 600.60,181.47 600.90,181.75 601.20,182.66 601.50,183.21 601.80,181.35 602.10,182.21 602.40,182.86 602.70,182.97 603.00,181.98 603.30,182.87 603.60,182.55 603.90,184.13 604.20,183.35 604.50,181.60 604.80,180.80 605.10,182.97 605.40,184.00 605.70,183.07 606.00,183.75 606.30,182.48 606.60,181.67 606.90,183.67 607.20,183.07 607.50,183.64 607.80,181.71 608.10,183.20 608.40,182.45 608.70,183.81 609.00,182.52 609.30,182.51 609.60,182.54 609.90,184.30 610.20,183.15 610.50,182.42 610.80,182.19 611.10,182.18 611.40,184.55 611.70,181.48 612.00,182.40 612.30,183.81 612.60,184.33 612.90,183.10 613.20,183.99 613.50,183.98 613.80,184.20 614.10,183.33 614.40,184.86 614.70,183.51 615.00,184.78 615.30,182.32 615.60,184.25 615.90,182.19 616.20,181.98 616.50,183.87 616.80,182.64 617.10,183.85 617.40,182.43 617.70,184.97 618.00,183.48 618.30,182.41 618.60,183.66 618.90,184.33 619.20,182.79 619.50,184.01 619.80,185.47 620.00,184.36 620.10,183.54 620.40,183.02 620.70,184.11 621.00,182.15 621.30,180.72 621.60,182.97 621.90,182.59 622.20,185.26 622.50,183.76 622.80,182.71 623.10,182.55 623.40,184.13 623.70,182.88 624.00,183.13 624.30,183.60 624.60,183.78 624.90,183.79 625.20,183.82 625.50,184.95 625.80,185.34 626.10,182.18 626.40,186.18 626.70,183.88 627.00,184.94 627.30,183.07 627.60,184.09 627.90,183.99 628.20,183.90 628.50,184.61 628.80,184.41 629.10,182.87 629.40,183.71 629.70,184.52 630.00,184.49 630.30,183.53 630.60,183.59 630.90,183.71 631.20,182.82 631.50,182.66 631.80,185.36 632.10,183.51 632.40,183.98 632.70,183.19 633.00,185.13 633.30,185.57 633.60,183.71 633.90,184.41 634.20,183.22 634.50,185.61 634.80,184.82 635.10,183.16 635.40,185.14 635.70,184.31 636.00,184.37 636.30,184.32 636.60,183.36 636.90,183.49 637.20,184.59 637.50,183.96 637.80,183.12 638.10,185.94 638.40,183.83 638.70,183.51 639.00,183.38 639.30,184.70 639.60,184.98 639.90,184.29 640.00,184.89 640.20,182.65 640.50,183.73 640.80,183.64 641.10,184.10 641.40,184.56 641.70,182.18 642.00,187.06 642.30,183.30 642.60,184.45 642.90,184.91 643.20,184.94 643.50,184.37 643.80,181.40 644.10,183.13 644.40,184.88 644.70,183.30 645.00,183.18 645.30,181.96 645.60,185.34 645.90,184.67 646.20,183.36 646.50,184.08 646.80,184.11 647.10,183.16 647.40,183.96 647.70,184.47 648.00,184.75 648.30,185.43 648.60,184.27 648.90,183.81 649.20,184.64 649.50,183.67 649.80,183.09 650.10,185.36 650.40,183.92 650.70,184.41 651.00,184.91 651.30,183.26 651.60,184.92 651.90,184.75 652.20,184.23 652.50,184.71 652.80,183.63 653.10,182.27 653.40,184.09 653.70,183.50 654.00,185.19 654.30,184.63 654.60,183.89 654.90,184.44 655.20,185.68 655.50,185.48 655.80,184.76 656.10,184.83 656.40,184.17 656.70,184.31 657.00,185.00 657.30,184.34 657.60,184.74 657.90,183.41 658.20,182.90 658.50,182.88 658.80,184.07 659.10,185.75 659.40,185.62 659.70,183.57 660.00,183.04 660.30,185.27 660.60,184.97 660.90,183.24 661.20,185.54 661.50,184.71 661.80,185.81 662.10,184.89 662.40,185.41 662.70,184.88 663.00,183.68 663.30,184.37 663.60,183.96 663.90,185.39 664.20,183.67 664.50,183.17 664.80,185.27 665.10,185.71 665.40,186.00 665.70,185.68 666.00,183.23 666.30,184.00 666.60,184.15 666.90,184.65 667.20,182.64 667.50,184.67 667.80,184.95 668.10,183.80 668.40,184.81 668.70,185.84 669.00,184.76 669.30,185.72 669.60,185.69 669.90,185.12 670.20,185.11 670.50,184.40 670.80,185.93 671.10,184.32 671.40,184.11 671.70,185.44 672.00,184.10 672.30,185.19 672.60,185.79 672.90,184.88 673.20,184.91 673.50,185.68 673.80,185.53 674.10,183.37 674.40,183.60 674.70,186.10 675.00,185.22 675.30,182.89 675.60,183.59 675.90,184.89 676.20,183.95 676.50,185.33 676.80,184.96 677.10,185.36 677.40,183.80 677.70,185.50 678.00,186.77 678.30,184.17"/><polyline stroke="#505050" stroke-width="2.2" points="355.00,228.19 355.30,229.76 355.60,231.93 355.90,233.94 356.20,235.95 356.50,237.27 356.80,238.71 357.10,240.31 357.40,242.59 357.70,244.61 358.00,245.71 358.30,246.74 358.60,248.49 358.90,251.15 359.20,252.21 359.50,253.02 359.80,255.28 360.10,256.38 360.40,258.12 360.70,259.65 361.00,260.99 361.30,262.96 361.60,264.11 361.90,265.30 362.20,267.13 362.50,268.68 362.80,268.86 363.10,270.74 363.40,271.56 363.70,273.03 364.00,273.41 364.30,275.04 364.60,275.96 364.90,276.75 365.20,277.24 365.50,278.44 365.80,278.79 366.10,279.26 366.40,280.81 366.70,280.23 367.00,282.26 367.30,282.05 367.60,279.84 367.90,281.92 368.20,280.82 368.50,281.91 368.80,281.99 369.10,280.21 369.40,281.84 369.70,281.85 370.00,283.01 370.30,280.98 370.60,282.74 370.90,281.02 371.20,281.66 371.50,281.14 371.80,283.08 372.10,282.20 372.40,283.71 372.70,282.03 373.00,282.08 373.30,281.94 373.60,280.57 373.90,280.88 374.20,281.94 374.50,280.31 374.80,280.66 375.00,280.38 375.10,280.85 375.40,279.87 375.70,279.85 376.00,279.94 376.30,279.58 376.60,278.56 376.90,279.63 377.20,277.66 377.50,277.43 377.80,277.06 378.10,278.41 378.40,277.09 378.70,276.30 379.00,275.84 379.30,276.67 379.60,275.23 379.90,274.75 380.00,276.06 380.20,274.49 380.50,274.81 380.80,274.70 381.10,274.02 381.40,273.94 381.70,274.59 382.00,272.87 382.30,271.97 382.60,271.18 382.90,272.02 383.20,271.57 383.50,271.70 383.80,270.84 384.00,270.63 384.10,270.35 384.40,270.20 384.70,270.37 385.00,269.64 385.30,269.67 385.60,270.74 385.90,269.39 386.20,267.50 386.50,270.09 386.80,268.83 387.00,267.60 387.10,269.33 387.40,268.63 387.70,268.36 388.00,268.69 388.30,268.84 388.60,270.01 388.90,271.17 389.20,270.68 389.50,271.65 389.80,273.11 390.00,271.09 390.10,272.30 390.40,272.18 390.70,271.91 391.00,272.23 391.30,273.30 391.60,273.95 391.90,273.58 392.00,274.13 392.20,274.87 392.50,274.96 392.80,275.79 393.10,275.95 393.40,276.44 393.70,277.83 394.00,277.52 394.30,277.71 394.60,278.63 394.90,278.09 395.20,279.02 395.50,280.30 395.80,280.74 396.10,281.89 396.40,281.42 396.70,280.97 397.00,283.76 397.30,283.70 397.60,282.75 397.90,284.88 398.00,284.11 398.20,283.15 398.50,284.58 398.80,284.98 399.10,286.88 399.40,285.72 399.70,286.55 400.00,287.00 400.30,287.38 400.60,287.45 400.90,288.68 401.20,289.71 401.50,289.81 401.80,289.10 402.10,289.32 402.40,290.60 402.70,290.34 403.00,290.72 403.30,290.23 403.60,293.29 403.90,292.79 404.20,291.62 404.50,293.35 404.80,293.96 405.10,291.29 405.40,292.99 405.70,293.36 406.00,294.42 406.30,294.04 406.60,294.19 406.90,294.55 407.20,296.31 407.50,296.78 407.80,294.84 408.10,294.74 408.40,297.87 408.70,295.14 409.00,295.68 409.30,296.39 409.60,296.97 409.90,297.63 410.00,297.20 410.20,296.34 410.50,297.67 410.80,297.69 411.10,299.22 411.40,297.93 411.70,297.10 412.00,297.56 412.30,299.78 412.60,298.41 412.90,297.37 413.20,298.81 413.50,299.50 413.80,300.67 414.10,299.12 414.40,300.68 414.70,301.00 415.00,300.01 415.30,300.63 415.60,302.42 415.90,302.59 416.20,302.09 416.50,301.87 416.80,302.73 417.10,301.89 417.40,302.12 417.70,301.69 418.00,302.59 418.30,302.71 418.60,305.24 418.90,302.99 419.20,304.38 419.50,304.60 419.80,303.54 420.10,304.84 420.40,302.25 420.70,304.31 421.00,305.11 421.30,302.59 421.60,303.79 421.90,305.80 422.20,304.88 422.50,304.35 422.80,305.12 423.10,305.15 423.40,306.37 423.70,306.31 424.00,305.86 424.30,305.71 424.60,306.38 424.90,307.70 425.20,307.05 425.50,307.45 425.80,306.95 426.10,306.16 426.40,306.81 426.70,308.11 427.00,307.82 427.30,307.13 427.60,306.70 427.90,308.31 428.00,307.99 428.20,308.09 428.50,308.28 428.80,308.97 429.10,309.17 429.40,309.91 429.70,310.07 430.00,310.60 430.30,310.34 430.60,309.55 430.90,309.94 431.20,310.55 431.50,309.96 431.80,310.81 432.00,311.40 432.10,309.65 432.40,308.81 432.70,311.57 433.00,310.54 433.30,311.21 433.60,309.37 433.90,312.24 434.20,311.35 434.50,310.59 434.80,310.41 435.10,310.87 435.40,310.64 435.70,310.56 436.00,309.80 436.30,312.04 436.60,310.85 436.90,310.98 437.20,311.01 437.50,308.74 437.80,311.46 438.10,310.67 438.40,310.73 438.70,311.08 439.00,310.13 439.30,311.84 439.60,310.42 439.90,310.25 440.00,310.29 440.20,311.26 440.50,311.83 440.80,310.59 441.10,309.75 441.40,312.18 441.70,310.20 442.00,312.33 442.30,311.18 442.60,310.58 442.90,310.65 443.20,311.70 443.50,312.11 443.80,311.09 444.10,312.18 444.40,313.26 444.70,311.08 445.00,310.19 445.30,310.28 445.60,309.95 445.90,310.65 446.00,310.56 446.20,309.99 446.50,311.68 446.80,308.77 447.10,309.91 447.40,312.81 447.70,311.82 448.00,311.22 448.30,310.97 448.60,311.70 448.90,310.41 449.20,309.65 449.50,308.28 449.80,308.38 450.10,307.26 450.40,306.46 450.70,305.59 451.00,305.11 451.30,304.19 451.60,304.53 451.65,302.83 451.90,303.55 452.15,305.25 452.20,303.93 452.50,305.17 452.80,305.81 453.10,306.75 453.40,307.32 453.70,306.97 454.00,308.35 454.30,308.93 454.60,308.67 454.90,309.83 455.20,309.56 455.50,309.46 455.80,311.16 456.00,311.06 456.10,310.58 456.40,310.55 456.70,311.09 457.00,311.44 457.30,311.69 457.60,312.23 457.90,312.23 458.20,313.15 458.50,313.55 458.80,313.72 459.10,313.21 459.40,313.50 459.70,314.57 460.00,314.26 460.30,314.55 460.60,312.48 460.90,312.24 461.00,315.08 461.20,315.05 461.50,315.94 461.80,315.23 462.10,314.66 462.40,314.33 462.70,312.96 463.00,314.69 463.30,313.28 463.60,314.02 463.90,313.60 464.20,313.53 464.50,313.97 464.80,312.66 465.00,312.72 465.10,312.28 465.40,312.70 465.70,314.56 466.00,312.65 466.30,314.01 466.60,313.62 466.90,313.44 467.20,313.39 467.50,311.71 467.80,312.69 468.10,313.32 468.40,311.30 468.70,310.86 469.00,307.83 469.30,297.26 469.60,268.88 469.90,221.94 470.05,198.79 470.20,183.41 470.30,181.68 470.50,192.57 470.55,198.82 470.80,238.64 471.10,280.80 471.40,302.23 471.70,309.51 472.00,311.68 472.30,312.51 472.60,312.37 472.90,312.05 473.20,312.42 473.50,313.67 473.80,314.07 474.10,312.54 474.40,312.46 474.70,314.09 475.00,313.64 475.30,313.64 475.60,311.77 475.90,312.66 476.00,312.52 476.20,313.21 476.50,311.43 476.80,314.13 477.10,313.19 477.40,313.24 477.70,311.72 478.00,312.65 478.30,313.70 478.60,311.09 478.90,312.49 479.20,312.58 479.50,311.24 479.80,311.91 480.10,310.52 480.40,308.61 480.70,300.46 481.00,279.46 481.30,244.79 481.45,227.69 481.60,216.44 481.70,213.05 481.90,222.87 481.95,227.54 482.20,256.81 482.50,287.77 482.80,303.56 483.10,308.38 483.40,310.09 483.70,309.48 484.00,310.83 484.30,310.22 484.60,310.12 484.90,310.79 485.00,312.45 485.20,309.80 485.50,310.18 485.80,311.73 486.10,310.31 486.40,312.19 486.70,310.70 487.00,310.39 487.30,310.23 487.60,309.92 487.90,306.60 488.20,295.30 488.50,260.62 488.80,192.16 489.05,128.07 489.10,118.10 489.30,99.20 489.40,103.83 489.55,128.33 489.70,165.55 490.00,241.94 490.30,288.12 490.60,305.53 490.90,310.02 491.20,311.46 491.50,312.53 491.80,312.47 492.10,313.55 492.40,313.72 492.70,313.91 493.00,314.92 493.30,312.82 493.60,312.87 493.90,314.88 494.00,315.21 494.20,316.21 494.50,315.27 494.80,315.45 495.10,314.09 495.40,315.62 495.70,315.66 496.00,314.26 496.30,314.50 496.60,315.29 496.90,315.74 497.20,312.97 497.50,315.73 497.80,315.95 498.10,315.67 498.40,316.14 498.70,316.38 499.00,315.12 499.30,316.47 499.60,315.91 499.90,315.32 500.00,316.39 500.20,317.60 500.50,314.92 500.80,314.77 501.10,314.80 501.40,318.19 501.70,316.16 502.00,316.37 502.30,315.72 502.60,315.60 502.90,314.61 503.20,316.68 503.50,316.79 503.80,314.73 504.10,315.62 504.40,315.92 504.70,316.61 505.00,316.88 505.30,317.72 505.60,317.96 505.90,317.71 506.20,317.98 506.50,315.65 506.80,316.24 507.10,317.85 507.40,317.06 507.70,316.83 508.00,314.98 508.30,315.11 508.60,317.55 508.90,317.21 509.20,316.63 509.50,316.54 509.80,315.34 510.00,317.31 510.10,317.93 510.40,318.52 510.70,317.06 511.00,316.84 511.30,316.03 511.60,318.22 511.90,318.69 512.20,316.54 512.50,317.40 512.80,317.24 513.10,316.64 513.40,314.86 513.70,316.87 514.00,317.80 514.30,315.90 514.60,316.49 514.90,314.22 515.20,318.51 515.50,317.80 515.80,317.39 516.10,317.12 516.40,316.80 516.70,317.34 517.00,317.14 517.30,317.22 517.60,317.45 517.90,317.62 518.20,318.97 518.50,316.19 518.80,317.81 519.10,317.01 519.40,316.56 519.70,315.44 520.00,318.23 520.30,316.78 520.60,317.02 520.90,318.19 521.20,316.79 521.50,317.85 521.80,317.80 522.10,318.65 522.40,318.88 522.70,317.20 523.00,318.88 523.30,318.00 523.60,318.25 523.90,317.98 524.20,318.93 524.50,317.15 524.80,318.54 525.10,319.42 525.40,318.11 525.70,320.29 526.00,317.76 526.30,318.67 526.60,318.04 526.90,317.93 527.20,317.47 527.50,318.02 527.80,318.49 528.00,317.78 528.10,319.37 528.40,319.91 528.70,317.08 529.00,319.14 529.30,318.47 529.60,318.42 529.90,320.26 530.20,319.05 530.50,318.19 530.80,317.96 531.10,315.79 531.40,318.36 531.70,316.92 532.00,317.75 532.30,317.67 532.60,318.47 532.90,319.46 533.20,318.46 533.50,318.71 533.80,317.28 534.10,317.89 534.40,318.15 534.70,316.08 535.00,319.19 535.30,316.64 535.60,316.08 535.90,318.41 536.20,318.38 536.50,315.95 536.80,314.77 537.10,312.12 537.40,304.67 537.70,293.95 538.00,283.12 538.05,282.00 538.30,278.81 538.55,281.85 538.60,283.33 538.90,294.21 539.20,304.62 539.50,311.27 539.80,315.10 540.10,315.73 540.40,316.79 540.70,318.51 541.00,317.66 541.30,317.33 541.60,317.40 541.90,318.07 542.20,318.29 542.50,316.25 542.80,317.67 543.10,319.12 543.40,318.25 543.70,316.84 544.00,316.93 544.30,315.64 544.60,316.84 544.90,319.11 545.00,317.53 545.20,316.80 545.50,317.08 545.80,317.53 546.10,317.56 546.40,317.36 546.70,317.01 547.00,318.34 547.30,319.21 547.60,317.32 547.90,317.40 548.20,319.02 548.50,316.66 548.80,317.51 549.10,317.76 549.40,318.32 549.70,317.98 550.00,317.48 550.30,318.63 550.60,317.34 550.90,316.90 551.20,316.70 551.50,319.27 551.80,317.09 552.10,319.12 552.40,319.38 552.70,319.56 553.00,318.73 553.30,318.44 553.60,319.06 553.90,318.49 554.20,317.89 554.50,320.27 554.80,318.32 555.00,320.83 555.10,319.65 555.40,318.78 555.70,319.64 556.00,320.40 556.30,318.01 556.60,318.46 556.90,318.38 557.20,319.53 557.50,319.78 557.80,319.46 558.10,318.79 558.40,319.00 558.70,320.62 559.00,320.59 559.30,319.70 559.60,318.38 559.90,320.21 560.20,319.92 560.50,319.91 560.80,321.31 561.10,320.48 561.40,318.82 561.70,318.85 562.00,321.06 562.30,319.98 562.60,320.63 562.90,319.71 563.20,318.93 563.50,320.14 563.80,321.37 564.10,320.22 564.40,318.84 564.70,319.61 565.00,319.44 565.30,320.07 565.60,320.84 565.90,321.68 566.20,320.04 566.50,319.39 566.80,319.80 567.10,319.68 567.40,319.21 567.70,319.53 568.00,319.43 568.30,318.31 568.60,319.75 568.90,318.85 569.20,318.22 569.50,319.43 569.80,318.48 570.10,320.37 570.40,319.16 570.70,318.72 571.00,317.90 571.30,318.14 571.60,319.20 571.90,317.75 572.00,319.04 572.20,316.41 572.50,318.43 572.80,318.91 573.10,318.41 573.40,318.01 573.70,318.80 574.00,317.07 574.30,316.83 574.60,317.56 574.90,318.13 575.20,317.10 575.50,315.89 575.80,313.63 576.10,307.28 576.40,293.87 576.70,273.86 576.95,257.86 577.00,255.42 577.20,250.50 577.30,251.97 577.45,257.83 577.60,267.01 577.90,287.71 578.20,303.51 578.50,312.11 578.80,315.01 579.10,316.10 579.40,317.71 579.70,316.09 580.00,315.75 580.30,318.42 580.60,317.65 580.90,317.95 581.20,318.04 581.50,318.33 581.80,317.08 582.10,317.48 582.40,316.53 582.70,317.72 583.00,317.83 583.30,317.21 583.60,318.28 583.90,320.41 584.20,316.74 584.50,318.59 584.80,318.77 585.10,318.96 585.40,317.40 585.70,319.26 586.00,318.88 586.30,318.30 586.60,318.21 586.90,318.82 587.20,319.53 587.50,319.59 587.80,320.93 588.10,318.67 588.40,319.62 588.70,318.74 589.00,319.90 589.30,319.35 589.60,318.70 589.90,318.02 590.00,318.55 590.20,319.51 590.50,320.68 590.80,320.02 591.10,318.14 591.40,318.81 591.70,319.31 592.00,319.14 592.30,319.31 592.60,319.98 592.90,319.43 593.20,318.56 593.50,317.38 593.80,318.87 594.10,317.59 594.40,319.02 594.70,319.46 595.00,317.88 595.30,319.00 595.60,318.80 595.90,320.91 596.20,319.53 596.50,317.30 596.80,319.49 597.10,319.45 597.40,318.86 597.70,318.68 598.00,319.58 598.30,319.63 598.60,319.40 598.90,318.04 599.20,318.71 599.50,317.47 599.80,317.51 600.10,318.35 600.40,317.86 600.70,318.41 601.00,320.97 601.30,319.10 601.60,317.80 601.90,316.62 602.20,317.62 602.50,317.03 602.80,316.22 603.10,315.12 603.40,309.69 603.70,300.11 604.00,287.13 604.25,276.88 604.30,275.41 604.50,272.87 604.60,273.28 604.75,276.75 604.90,282.45 605.20,296.00 605.50,307.01 605.80,313.38 606.10,316.19 606.40,317.16 606.70,318.18 607.00,318.78 607.30,318.92 607.60,319.66 607.90,318.49 608.20,319.50 608.50,319.09 608.80,319.48 609.10,317.15 609.40,320.06 609.70,317.47 610.00,317.88 610.30,319.68 610.60,318.64 610.90,320.66 611.20,319.25 611.50,318.25 611.80,319.38 612.10,318.96 612.40,320.78 612.70,320.93 613.00,320.20 613.30,319.23 613.60,319.73 613.90,320.67 614.20,319.00 614.50,319.02 614.80,320.58 615.00,320.47 615.10,319.55 615.40,319.50 615.70,317.91 616.00,320.80 616.30,319.57 616.60,318.33 616.90,318.57 617.20,318.70 617.50,320.57 617.80,319.37 618.10,317.53 618.40,318.30 618.70,316.70 619.00,314.16 619.30,311.93 619.45,313.24 619.60,311.96 619.70,312.20 619.90,312.24 619.95,313.40 620.20,314.30 620.50,315.42 620.80,316.42 621.10,317.76 621.40,318.80 621.70,317.74 622.00,320.16 622.30,318.98 622.60,319.55 622.90,319.43 623.20,320.09 623.50,320.13 623.80,320.93 624.10,318.60 624.40,317.90 624.70,317.50 625.00,315.10 625.30,311.19 625.60,304.04 625.90,294.99 626.20,285.85 626.35,282.39 626.50,280.19 626.60,281.02 626.80,281.56 626.85,281.90 627.10,288.59 627.40,298.09 627.70,306.55 628.00,312.41 628.30,315.94 628.60,317.74 628.90,318.43 629.20,319.69 629.50,319.13 629.80,317.55 630.10,316.44 630.40,314.82 630.70,311.05 631.00,307.11 631.30,303.53 631.35,303.26 631.60,302.37 631.85,303.41 631.90,303.29 632.20,307.28 632.50,311.15 632.80,314.76 633.10,316.98 633.40,317.63 633.70,316.87 634.00,319.76 634.30,319.41 634.60,319.29 634.90,318.56 635.20,318.93 635.50,319.69 635.80,319.31 636.00,320.39 636.10,319.42 636.40,318.58 636.70,319.93 637.00,318.83 637.30,319.65 637.60,317.85 637.90,319.23 638.20,320.11 638.50,319.07 638.80,319.69 639.10,320.30 639.40,319.87 639.70,321.49 640.00,319.65 640.30,319.75 640.60,319.80 640.90,318.14 641.20,318.57 641.50,320.52 641.80,319.73 642.10,321.36 642.40,319.97 642.70,319.87 643.00,320.93 643.30,320.17 643.60,321.21 643.90,318.80 644.20,319.85 644.50,319.79 644.80,319.42 645.10,319.59 645.40,319.25 645.70,318.25 645.95,317.61 646.00,318.98 646.20,318.14 646.30,318.97 646.45,319.32 646.60,318.42 646.90,317.82 647.20,318.64 647.50,319.76 647.80,319.34 648.10,320.73 648.40,320.13 648.70,320.43 649.00,319.98 649.30,320.56 649.60,321.72 649.90,320.55 650.00,320.58 650.20,320.22 650.50,321.69 650.80,319.67 651.10,320.51 651.40,321.98 651.70,322.50 652.00,321.07 652.30,322.20 652.60,319.60 652.90,322.14 653.20,321.78 653.50,320.47 653.80,320.03 654.10,321.24 654.40,322.00 654.70,322.16 655.00,321.98 655.30,322.64 655.60,322.64 655.90,320.80 656.20,321.76 656.50,321.70 656.80,323.15 657.10,321.81 657.40,323.23 657.70,322.43 658.00,324.55 658.30,322.37 658.60,322.45 658.90,322.36 659.20,322.62 659.50,324.79 659.80,322.03 660.00,321.68 660.10,322.31 660.40,323.13 660.70,321.56 661.00,323.21 661.30,323.15 661.60,322.26 661.90,322.12 662.20,321.57 662.50,321.87 662.80,321.24 663.10,322.33 663.40,321.96 663.70,320.08 664.00,319.38 664.30,317.45 664.60,317.31 664.90,317.19 664.95,317.09 665.20,316.85 665.45,317.50 665.50,317.03 665.80,317.40 666.10,319.38 666.40,318.39 666.70,319.62 667.00,320.53 667.30,321.03 667.60,321.33 667.90,321.99 668.20,321.73 668.50,322.39 668.80,323.05 669.10,322.59 669.40,322.72 669.70,321.77 670.00,321.60 670.30,322.41 670.60,323.56 670.90,323.07 671.20,323.76 671.50,323.69 671.80,323.83 672.10,322.05 672.40,323.98 672.70,323.55 673.00,324.79 673.30,323.43 673.60,323.20 673.90,322.79 674.20,323.09 674.50,321.41 674.80,322.74 675.10,322.96 675.40,323.93 675.70,322.42 676.00,323.17 676.30,324.77 676.60,322.60 676.90,323.89 677.20,322.63 677.50,323.06 677.80,323.60 678.00,324.00 678.10,322.73 678.40,322.26"/><polyline stroke="#ea3a40" stroke-width="2.35" points="355.50,178.80 355.80,181.50 356.10,184.58 356.40,186.72 356.70,188.39 357.00,191.24 357.30,193.30 357.60,195.75 357.90,197.25 358.00,198.58 358.20,199.93 358.50,202.40 358.80,203.86 359.10,205.79 359.40,206.85 359.70,210.07 360.00,210.20 360.30,213.09 360.60,214.23 360.90,215.69 361.00,216.34 361.20,217.46 361.50,219.60 361.80,221.15 362.10,223.50 362.40,223.90 362.70,226.27 363.00,227.47 363.30,229.65 363.60,229.67 363.90,231.67 364.00,232.31 364.20,232.14 364.50,234.43 364.80,235.03 365.10,236.44 365.40,237.36 365.70,237.20 366.00,238.14 366.30,239.26 366.60,240.56 366.90,241.30 367.20,240.89 367.50,241.44 367.80,241.69 368.00,242.06 368.10,242.42 368.40,242.79 368.70,244.77 369.00,243.01 369.30,243.42 369.60,244.24 369.90,243.29 370.20,243.96 370.50,244.45 370.80,245.25 371.10,243.65 371.40,246.07 371.70,244.75 372.00,245.33 372.30,246.04 372.60,246.01 372.90,246.47 373.00,245.75 373.20,245.66 373.50,246.08 373.80,245.07 374.10,247.10 374.40,245.50 374.70,245.20 375.00,248.20 375.30,246.38 375.60,245.54 375.90,248.33 376.20,246.43 376.50,247.75 376.80,246.02 377.00,246.56 377.10,245.20 377.40,245.01 377.70,245.85 378.00,246.62 378.30,247.34 378.60,248.69 378.90,245.54 379.20,247.22 379.50,245.70 379.80,245.97 380.10,244.71 380.40,244.58 380.70,245.04 381.00,244.54 381.30,245.42 381.60,244.68 381.90,246.21 382.00,245.23 382.20,245.15 382.50,245.82 382.80,245.14 383.10,244.51 383.40,244.30 383.70,244.09 384.00,244.89 384.30,244.45 384.60,243.91 384.90,244.05 385.20,242.76 385.50,243.40 385.80,241.64 386.10,243.64 386.40,242.41 386.70,242.27 387.00,242.39 387.30,241.69 387.60,241.27 387.90,242.23 388.00,241.29 388.20,240.32 388.50,241.21 388.80,239.26 389.10,241.77 389.40,240.08 389.70,240.04 390.00,241.60 390.30,241.30 390.60,239.44 390.90,239.63 391.20,239.78 391.50,240.03 391.80,238.36 392.10,238.35 392.40,238.99 392.70,238.00 393.00,238.16 393.30,237.81 393.60,236.19 393.90,236.18 394.20,234.53 394.50,236.19 394.80,237.22 395.00,235.12 395.10,236.90 395.40,236.46 395.70,235.38 396.00,235.16 396.30,234.97 396.60,233.97 396.90,234.15 397.20,234.06 397.50,234.30 397.80,234.18 398.10,232.72 398.40,233.68 398.70,232.17 399.00,232.41 399.30,232.60 399.60,232.06 399.90,231.77 400.00,232.02 400.20,231.22 400.50,230.94 400.80,231.11 401.10,231.88 401.40,230.83 401.70,232.31 402.00,230.73 402.30,227.91 402.60,229.85 402.90,231.44 403.20,229.90 403.50,229.36 403.80,228.84 404.10,230.53 404.40,230.11 404.70,229.68 405.00,229.32 405.30,230.03 405.60,229.36 405.90,227.48 406.20,229.02 406.50,228.36 406.80,227.98 407.10,228.57 407.40,227.79 407.70,225.15 408.00,228.78 408.30,228.19 408.60,227.05 408.90,226.69 409.20,227.03 409.50,225.60 409.80,226.77 410.00,226.21 410.10,226.05 410.40,225.41 410.70,225.44 411.00,226.74 411.30,226.75 411.60,225.88 411.90,225.24 412.20,224.38 412.50,225.51 412.80,226.06 413.10,223.22 413.40,225.33 413.70,222.39 414.00,223.71 414.30,224.13 414.60,222.50 414.90,222.19 415.20,223.42 415.50,223.81 415.80,222.52 416.10,223.85 416.40,221.91 416.70,223.86 417.00,222.33 417.30,222.26 417.60,222.42 417.90,222.02 418.00,223.26 418.20,223.46 418.50,221.90 418.80,221.15 419.10,220.14 419.40,220.34 419.70,220.82 420.00,220.57 420.30,220.47 420.60,220.36 420.90,220.62 421.20,218.91 421.50,219.04 421.80,220.74 422.10,220.37 422.40,219.06 422.70,220.53 423.00,218.71 423.30,218.98 423.60,217.49 423.90,219.78 424.00,218.99 424.20,219.91 424.50,219.51 424.80,218.89 425.10,218.88 425.40,219.74 425.70,218.45 426.00,218.40 426.30,218.54 426.60,219.17 426.90,219.24 427.20,220.13 427.50,218.26 427.80,219.52 428.00,217.71 428.10,218.90 428.40,218.47 428.70,219.98 429.00,218.99 429.30,218.09 429.60,219.09 429.90,218.97 430.20,218.49 430.50,218.61 430.80,218.17 431.10,221.48 431.40,219.35 431.70,220.20 432.00,218.50 432.30,218.71 432.60,219.64 432.90,219.77 433.00,220.63 433.20,219.18 433.50,220.63 433.80,221.60 434.10,219.73 434.40,221.42 434.70,220.05 435.00,221.32 435.30,221.53 435.60,222.84 435.90,221.09 436.20,222.00 436.50,222.92 436.80,221.37 437.10,222.53 437.40,222.08 437.70,222.45 438.00,223.79 438.30,224.04 438.60,225.77 438.90,225.06 439.20,225.23 439.50,224.31 439.80,224.44 440.00,224.95 440.10,223.11 440.40,226.47 440.70,224.87 441.00,224.82 441.30,225.55 441.60,226.85 441.90,227.40 442.20,226.40 442.50,227.30 442.80,227.19 443.10,226.74 443.40,227.92 443.70,228.08 444.00,227.15 444.30,229.47 444.60,227.68 444.90,229.35 445.20,228.63 445.50,229.08 445.80,229.44 446.10,230.80 446.40,229.53 446.70,230.62 447.00,232.24 447.30,230.72 447.60,231.49 447.90,232.29 448.20,231.55 448.50,232.63 448.80,231.98 449.10,233.30 449.40,233.04 449.70,232.50 450.00,234.60 450.30,233.65 450.60,233.74 450.90,233.47 451.20,234.07 451.50,234.60 451.80,235.05 452.10,236.02 452.40,234.33 452.70,235.33 453.00,236.79 453.30,236.21 453.60,236.61 453.90,237.79 454.20,237.00 454.50,237.33 454.80,237.13 455.00,238.73 455.10,238.23 455.40,237.01 455.70,238.25 456.00,237.09 456.30,239.11 456.60,238.98 456.90,238.52 457.20,238.53 457.50,237.60 457.80,239.88 458.10,239.36 458.40,239.41 458.70,240.45 459.00,239.51 459.30,239.77 459.60,239.87 459.90,239.52 460.20,242.80 460.50,240.84 460.80,240.90 461.10,242.11 461.40,238.94 461.70,241.70 462.00,241.91 462.30,241.27 462.60,242.63 462.90,240.75 463.20,242.60 463.50,243.50 463.80,241.11 464.10,241.92 464.40,243.15 464.70,243.43 465.00,243.07 465.30,244.06 465.60,244.12 465.90,242.92 466.20,244.11 466.50,243.24 466.80,242.67 467.10,242.48 467.40,245.57 467.70,244.66 468.00,246.59 468.30,243.63 468.60,244.69 468.90,245.38 469.20,245.01 469.50,245.65 469.80,245.39 470.10,244.76 470.40,243.25 470.70,244.56 471.00,247.05 471.30,246.23 471.60,246.84 471.90,245.10 472.20,245.51 472.50,244.93 472.80,246.14 473.10,245.89 473.40,246.30 473.70,247.54 474.00,245.23 474.30,246.72 474.60,244.83 474.90,247.16 475.00,245.79 475.20,246.17 475.50,246.42 475.80,247.85 476.10,246.42 476.40,246.07 476.70,245.54 477.00,246.92 477.30,245.99 477.60,246.38 477.90,246.88 478.20,247.58 478.50,246.41 478.80,247.73 479.10,248.79 479.40,245.92 479.70,248.56 480.00,249.34 480.30,246.91 480.60,248.06 480.90,246.32 481.20,247.93 481.50,247.38 481.80,248.01 482.10,246.96 482.40,247.10 482.70,247.49 483.00,247.30 483.30,247.43 483.60,247.86 483.90,247.08 484.20,248.01 484.50,248.63 484.80,246.13 485.10,248.47 485.40,247.65 485.70,247.35 486.00,247.19 486.30,247.68 486.60,247.82 486.90,248.86 487.20,247.43 487.50,249.59 487.80,247.92 488.10,249.34 488.40,249.76 488.70,247.67 489.00,249.83 489.30,250.90 489.60,248.53 489.90,249.52 490.00,248.88 490.20,249.11 490.50,248.90 490.80,248.65 491.10,249.82 491.40,250.01 491.70,249.22 492.00,250.66 492.30,250.29 492.60,249.96 492.90,248.67 493.20,251.14 493.50,250.62 493.80,247.41 494.10,248.40 494.40,249.01 494.70,250.36 495.00,250.67 495.30,249.26 495.60,249.78 495.90,250.23 496.20,248.41 496.50,250.18 496.80,249.37 497.10,249.85 497.40,249.66 497.70,248.64 498.00,248.84 498.30,249.83 498.60,249.95 498.90,249.62 499.20,250.88 499.50,249.60 499.80,248.85 500.00,249.68 500.10,249.85 500.40,249.94 500.70,251.17 501.00,250.63 501.30,251.18 501.60,250.86 501.90,250.23 502.20,251.38 502.50,250.30 502.80,250.84 503.10,249.82 503.40,250.89 503.70,250.60 504.00,251.31 504.30,252.68 504.60,253.26 504.90,252.18 505.20,251.37 505.50,252.22 505.80,251.80 506.10,251.18 506.40,251.76 506.70,251.70 507.00,251.50 507.30,253.34 507.60,251.77 507.90,251.91 508.20,253.06 508.50,251.94 508.80,251.63 509.10,251.99 509.40,253.26 509.70,253.26 510.00,253.27 510.30,252.68 510.60,252.37 510.90,254.07 511.20,252.06 511.50,253.24 511.80,252.33 512.10,253.23 512.40,253.54 512.70,254.85 513.00,251.28 513.30,255.13 513.60,253.20 513.90,254.34 514.20,254.87 514.50,253.55 514.80,254.23 515.10,254.83 515.40,254.36 515.70,253.89 516.00,254.80 516.30,254.81 516.60,253.45 516.90,256.08 517.20,255.15 517.50,252.88 517.80,254.37 518.10,256.73 518.40,256.69 518.70,255.60 519.00,253.95 519.30,255.32 519.60,256.56 519.90,256.05 520.00,255.44 520.20,255.14 520.50,256.61 520.80,255.78 521.10,256.34 521.40,256.58 521.70,257.69 522.00,256.50 522.30,256.65 522.60,254.94 522.90,257.59 523.20,257.49 523.50,256.79 523.80,254.90 524.10,256.50 524.40,257.15 524.70,259.03 525.00,257.80 525.30,258.07 525.60,258.19 525.90,258.74 526.20,256.66 526.50,257.01 526.80,256.81 527.10,257.69 527.40,257.73 527.70,258.22 528.00,257.32 528.30,258.40 528.60,257.65 528.90,260.37 529.20,258.12 529.50,260.94 529.80,260.22 530.00,257.77 530.10,259.71 530.40,259.48 530.70,257.68 531.00,259.66 531.30,259.13 531.60,259.61 531.90,258.64 532.20,259.43 532.50,259.94 532.80,259.51 533.10,259.22 533.40,259.71 533.70,259.07 534.00,260.33 534.30,257.85 534.60,261.54 534.90,260.35 535.20,260.81 535.50,261.23 535.80,259.46 536.10,262.67 536.40,259.73 536.70,261.23 537.00,261.18 537.30,262.14 537.60,261.04 537.90,259.87 538.20,261.49 538.50,259.07 538.80,261.17 539.10,261.01 539.40,262.89 539.70,261.30 540.00,261.21 540.30,260.99 540.60,260.97 540.90,261.30 541.20,262.40 541.50,260.72 541.80,261.78 542.10,260.70 542.40,261.93 542.70,262.29 543.00,261.07 543.30,261.72 543.60,262.39 543.90,263.05 544.20,263.26 544.50,262.34 544.80,261.58 545.10,261.05 545.40,263.30 545.70,263.91 546.00,263.02 546.30,264.17 546.60,262.36 546.90,262.47 547.20,264.31 547.50,261.99 547.80,263.52 548.10,263.36 548.40,263.20 548.70,264.69 549.00,262.34 549.30,262.80 549.60,261.32 549.90,262.32 550.00,262.83 550.20,262.97 550.50,263.19 550.80,263.70 551.10,262.85 551.40,261.69 551.70,263.70 552.00,263.99 552.30,262.58 552.60,262.97 552.90,265.36 553.20,264.73 553.50,264.84 553.80,264.50 554.10,264.06 554.40,263.50 554.70,264.54 555.00,263.87 555.30,263.69 555.60,264.13 555.90,264.11 556.20,265.05 556.50,263.38 556.80,266.61 557.10,263.41 557.40,263.99 557.70,265.30 558.00,263.69 558.30,264.05 558.60,264.56 558.90,261.82 559.20,264.14 559.50,263.75 559.80,264.45 560.00,265.16 560.10,265.31 560.40,266.14 560.70,266.12 561.00,265.77 561.30,264.80 561.60,265.84 561.90,263.97 562.20,264.84 562.50,266.31 562.80,265.73 563.10,263.72 563.40,264.50 563.70,265.93 564.00,265.69 564.30,266.15 564.60,263.51 564.90,264.01 565.20,264.99 565.50,264.34 565.80,265.25 566.10,265.32 566.40,265.66 566.70,265.24 567.00,265.92 567.30,266.15 567.60,265.59 567.90,264.33 568.20,266.71 568.50,265.73 568.80,265.95 569.10,265.74 569.40,264.09 569.70,266.17 570.00,265.03 570.30,264.53 570.60,266.90 570.90,265.43 571.20,266.02 571.50,266.60 571.80,267.31 572.10,264.11 572.40,265.14 572.70,266.50 573.00,265.26 573.30,262.85 573.60,266.06 573.90,266.16 574.20,266.72 574.50,266.21 574.80,265.61 575.10,266.25 575.40,266.03 575.70,265.62 576.00,266.35 576.30,266.47 576.60,265.21 576.90,267.14 577.20,266.98 577.50,266.97 577.80,263.67 578.10,266.38 578.40,266.18 578.70,265.38 579.00,266.88 579.30,264.95 579.60,267.54 579.90,266.77 580.00,265.94 580.20,267.77 580.50,266.89 580.80,266.79 581.10,265.28 581.40,267.01 581.70,267.86 582.00,267.60 582.30,265.38 582.60,267.91 582.90,268.14 583.20,267.45 583.50,266.31 583.80,265.29 584.10,265.86 584.40,266.19 584.70,267.02 585.00,267.30 585.30,266.10 585.60,265.28 585.90,266.45 586.20,265.61 586.50,268.13 586.80,265.74 587.10,267.37 587.40,267.71 587.70,266.04 588.00,267.92 588.30,266.86 588.60,266.27 588.90,266.14 589.20,267.16 589.50,268.08 589.80,265.31 590.10,267.69 590.40,266.99 590.70,266.44 591.00,267.08 591.30,267.19 591.60,267.16 591.90,268.00 592.20,266.41 592.50,269.14 592.80,268.15 593.10,266.76 593.40,265.53 593.70,267.35 594.00,267.01 594.30,268.11 594.60,268.12 594.90,269.26 595.20,267.36 595.50,268.25 595.80,267.12 596.10,267.19 596.40,269.01 596.70,267.45 597.00,267.50 597.30,267.29 597.60,267.95 597.90,268.23 598.20,267.57 598.50,266.62 598.80,268.05 599.10,266.97 599.40,267.43 599.70,267.98 600.00,268.04 600.30,265.62 600.60,269.44 600.90,268.61 601.20,269.70 601.50,270.27 601.80,267.01 602.10,267.38 602.40,268.16 602.70,268.83 603.00,267.47 603.30,267.67 603.60,269.00 603.90,267.16 604.20,268.21 604.50,269.05 604.80,267.79 605.10,268.79 605.40,267.96 605.70,266.58 606.00,267.58 606.30,267.91 606.60,267.80 606.90,268.15 607.20,268.51 607.50,268.42 607.80,268.33 608.10,267.76 608.40,267.97 608.70,267.84 609.00,267.65 609.30,269.51 609.60,266.43 609.90,268.46 610.20,266.70 610.50,267.69 610.80,269.02 611.10,268.01 611.40,269.61 611.70,267.40 612.00,268.02 612.30,267.71 612.60,268.33 612.90,268.03 613.20,267.98 613.50,268.43 613.80,269.40 614.10,268.51 614.40,268.43 614.70,268.11 615.00,267.72 615.30,267.03 615.60,267.42 615.90,268.44 616.20,266.62 616.50,269.05 616.80,268.04 617.10,267.57 617.40,267.95 617.70,269.09 618.00,268.83 618.30,268.75 618.60,270.19 618.90,270.76 619.20,267.36 619.50,269.43 619.80,267.90 620.10,267.35 620.40,268.18 620.70,269.66 621.00,268.43 621.30,268.30 621.60,270.11 621.90,269.28 622.20,268.75 622.50,270.57 622.80,269.34 623.10,268.21 623.40,267.89 623.70,268.54 624.00,269.12 624.30,269.87 624.60,269.79 624.90,269.12 625.20,267.91 625.50,269.92 625.80,269.13 626.10,268.02 626.40,267.90 626.70,269.28 627.00,269.41 627.30,269.86 627.60,267.94 627.90,270.93 628.20,267.40 628.50,269.09 628.80,270.41 629.10,270.13 629.40,268.25 629.70,269.74 630.00,270.34 630.30,269.88 630.60,268.26 630.90,270.78 631.20,267.66 631.50,269.26 631.80,268.21 632.10,268.82 632.40,268.92 632.70,269.72 633.00,268.05 633.30,269.46 633.60,270.50 633.90,269.35 634.20,269.80 634.50,269.70 634.80,268.59 635.10,268.96 635.40,269.36 635.70,269.78 636.00,271.26 636.30,270.89 636.60,268.91 636.90,268.95 637.20,268.40 637.50,267.17 637.80,270.63 638.10,269.90 638.40,267.55 638.70,269.42 639.00,271.66 639.30,269.89 639.60,269.92 639.90,269.64 640.20,268.73 640.50,268.35 640.80,268.68 641.10,269.63 641.40,269.27 641.70,270.17 642.00,271.19 642.30,270.09 642.60,270.34 642.90,269.21 643.20,268.32 643.50,271.63 643.80,270.27 644.10,270.72 644.40,269.23 644.70,267.98 645.00,270.87 645.30,267.56 645.60,269.47 645.90,269.12 646.20,269.85 646.50,270.43 646.80,270.44 647.10,267.66 647.40,270.62 647.70,267.86 648.00,270.33 648.30,269.28 648.60,268.62 648.90,269.21 649.20,268.46 649.50,269.72 649.80,270.64 650.10,270.51 650.40,269.80 650.70,270.82 651.00,270.26 651.30,271.85 651.60,270.29 651.90,269.23 652.20,269.53 652.50,269.09 652.80,269.55 653.10,269.70 653.40,270.50 653.70,270.60 654.00,269.91 654.30,270.28 654.60,269.18 654.90,269.37 655.20,267.54 655.50,269.17 655.80,269.44 656.10,272.39 656.40,268.64 656.70,270.01 657.00,269.64 657.30,268.46 657.60,270.23 657.90,270.00 658.20,268.60 658.50,267.78 658.80,269.97 659.10,268.66 659.40,270.69 659.70,269.79 660.00,270.58 660.30,269.79 660.60,271.57 660.90,270.77 661.20,271.59 661.50,270.25 661.80,269.18 662.10,268.81 662.40,269.70 662.70,270.48 663.00,269.61 663.30,272.58 663.60,270.18 663.90,270.70 664.20,270.36 664.50,269.09 664.80,271.32 665.10,270.95 665.40,271.17 665.70,269.46 666.00,270.39 666.30,270.35 666.60,271.53 666.90,269.10 667.20,271.08 667.50,271.67 667.80,270.07 668.10,269.71 668.40,271.78 668.70,270.76 669.00,271.62 669.30,271.28 669.60,271.60 669.90,270.42 670.20,268.58 670.50,271.20 670.80,269.99 671.10,271.25 671.40,270.17 671.70,272.26 672.00,270.48 672.30,271.53 672.60,271.81 672.90,270.69 673.20,271.09 673.50,270.78 673.80,269.93 674.10,272.24 674.40,269.97 674.70,269.36 675.00,270.39 675.30,271.02 675.60,270.97 675.90,270.60 676.20,270.50 676.50,268.90 676.80,271.57 677.10,272.65 677.40,270.30 677.70,269.29 678.00,271.75 678.30,270.88"/></g><g stroke="#000" stroke-width="2" fill="none"><path d="M0.8,1.8 H314.4 V327.2 H0.8"/><path d="M0.9,1.8 V330" stroke="#2b2b2b" stroke-width="1.9"/><path d="M355,3.8 H679.5 V329.5 H355 Z" stroke-width="1.85"/><path d="M355,329 V332.8"/><path d="M313.4,319 L311.6,327" stroke-width="1.3"/><path d="M21.70,327.2 V333 M63.40,327.2 V333 M105.10,327.2 V333 M146.80,327.2 V333 M188.50,327.2 V333 M230.20,327.2 V333 M271.90,327.2 V333 M313.60,327.2 V333 M42.55,327.2 V330.5 M84.25,327.2 V330.5 M125.95,327.2 V330.5 M167.65,327.2 V330.5 M209.35,327.2 V330.5 M251.05,327.2 V330.5 M292.75,327.2 V330.5 M376.52,329.5 V335 M419.76,329.5 V335 M463.00,329.5 V335 M506.24,329.5 V335 M549.48,329.5 V335 M592.72,329.5 V335 M635.96,329.5 V335 M679.20,329.5 V335 M398.14,329.5 V332.5 M441.38,329.5 V332.5 M484.62,329.5 V332.5 M527.86,329.5 V332.5 M571.10,329.5 V332.5 M614.34,329.5 V332.5 M657.58,329.5 V332.5"/></g><g stroke-width="2.2"><line x1="211" y1="16.6" x2="237.7" y2="16.6" stroke="#000"/><line x1="211" y1="37.9" x2="237.7" y2="37.9" stroke="#ea3a40"/><line x1="360.5" y1="15.5" x2="384.2" y2="15.5" stroke="#505050"/><line x1="360.5" y1="34.6" x2="384.2" y2="34.6" stroke="#ea3a40"/><line x1="360.5" y1="50" x2="384.2" y2="50" stroke="#1c6ade"/></g><g class="r" fill="#111" stroke="#111" stroke-width="0.1" font-size="14.5"><text x="21.70" y="348.8" text-anchor="middle" textLength="11.8" lengthAdjust="spacingAndGlyphs">10</text><text x="376.52" y="351.2" text-anchor="middle" textLength="11.8" lengthAdjust="spacingAndGlyphs">10</text><text x="63.40" y="348.8" text-anchor="middle" textLength="11.8" lengthAdjust="spacingAndGlyphs">20</text><text x="419.76" y="351.2" text-anchor="middle" textLength="11.8" lengthAdjust="spacingAndGlyphs">20</text><text x="105.10" y="348.8" text-anchor="middle" textLength="11.8" lengthAdjust="spacingAndGlyphs">30</text><text x="463.00" y="351.2" text-anchor="middle" textLength="11.8" lengthAdjust="spacingAndGlyphs">30</text><text x="146.80" y="348.8" text-anchor="middle" textLength="11.8" lengthAdjust="spacingAndGlyphs">40</text><text x="506.24" y="351.2" text-anchor="middle" textLength="11.8" lengthAdjust="spacingAndGlyphs">40</text><text x="188.50" y="348.8" text-anchor="middle" textLength="11.8" lengthAdjust="spacingAndGlyphs">50</text><text x="549.48" y="351.2" text-anchor="middle" textLength="11.8" lengthAdjust="spacingAndGlyphs">50</text><text x="230.20" y="348.8" text-anchor="middle" textLength="11.8" lengthAdjust="spacingAndGlyphs">60</text><text x="592.72" y="351.2" text-anchor="middle" textLength="11.8" lengthAdjust="spacingAndGlyphs">60</text><text x="271.90" y="348.8" text-anchor="middle" textLength="11.8" lengthAdjust="spacingAndGlyphs">70</text><text x="635.96" y="351.2" text-anchor="middle" textLength="11.8" lengthAdjust="spacingAndGlyphs">70</text><text x="313.60" y="348.8" text-anchor="middle" textLength="11.8" lengthAdjust="spacingAndGlyphs">80</text><text x="679.20" y="351.2" text-anchor="middle" textLength="11.8" lengthAdjust="spacingAndGlyphs">80</text></g><g class="r" fill="#111" stroke="#111" stroke-width="0.25"><text x="119" y="381.6" font-size="23.3" textLength="76" lengthAdjust="spacingAndGlyphs">2Theta (2θ)</text><text x="481" y="380.9" font-size="21.3" textLength="71.5" lengthAdjust="spacingAndGlyphs">2Theta (2θ)</text></g><g class="r" fill="#111" stroke="#111" stroke-width="0.2"><text x="239.5" y="22.3" font-size="14" textLength="33.5" lengthAdjust="spacingAndGlyphs"><tspan>g-C</tspan><tspan dy="3.20" font-size="8.96">3</tspan><tspan dy="-3.20">N</tspan><tspan dy="3.20" font-size="8.96">4</tspan></text><text x="240" y="43.3" font-size="14.5" textLength="58.5" lengthAdjust="spacingAndGlyphs"><tspan>ZnO-g-C</tspan><tspan dy="3.20" font-size="9.28">3</tspan><tspan dy="-3.20">N</tspan><tspan dy="3.20" font-size="9.28">4</tspan></text><text x="385.4" y="20.3" font-size="13" textLength="55" lengthAdjust="spacingAndGlyphs"><tspan>ZnO-g-C</tspan><tspan dy="3.20" font-size="8.32">3</tspan><tspan dy="-3.20">N</tspan><tspan dy="3.20" font-size="8.32">4</tspan></text><text x="385.4" y="40" font-size="13" textLength="96.8" lengthAdjust="spacingAndGlyphs">(CMCH/ALG)-g-PAA</text><text x="385.4" y="54.9" font-size="13" textLength="158.8" lengthAdjust="spacingAndGlyphs"><tspan>ZnO-g-C</tspan><tspan dy="3.20" font-size="8.32">3</tspan><tspan dy="-3.20">N</tspan><tspan dy="3.20" font-size="8.32">4</tspan><tspan dy="-3.20">@(CMCH/ALG)-g-PAA</tspan></text><text x="532.4" y="86.6" font-size="15.5" textLength="26" lengthAdjust="spacingAndGlyphs" stroke-width="0.35">47.37</text></g><g fill="#111"><text class="r" transform="translate(85.20,95.90) scale(0.84,1) rotate(-90)" font-size="14.2" textLength="70.30" lengthAdjust="spacingAndGlyphs">27.62/(002)</text><text class="r" transform="translate(109.80,84.70) scale(0.84,1) rotate(-90)" font-size="14.2" textLength="63.00" lengthAdjust="spacingAndGlyphs">31.66/(100)</text><text class="r" transform="translate(128.00,104.40) scale(0.84,1) rotate(-90)" font-size="14.2" textLength="63.30" lengthAdjust="spacingAndGlyphs">34.30/(002)</text><text class="r" transform="translate(145.50,78.30) scale(0.84,1) rotate(-90)" font-size="14.2" textLength="62.70" lengthAdjust="spacingAndGlyphs">36.12/(101)</text><text class="r" transform="translate(180.60,170.00) scale(0.84,1) rotate(-90)" font-size="14.2" textLength="63.20" lengthAdjust="spacingAndGlyphs">47.37/(102)</text><text class="r" transform="translate(218.30,143.10) scale(0.84,1) rotate(-90)" font-size="14.2" textLength="63.50" lengthAdjust="spacingAndGlyphs">56.41/(110)</text><text class="r" transform="translate(247.60,164.30) scale(0.84,1) rotate(-90)" font-size="14.2" textLength="62.80" lengthAdjust="spacingAndGlyphs">62.64/(103)</text><text class="r" transform="translate(257.00,198.50) scale(0.84,1) rotate(-90)" font-size="14.2" textLength="63.60" lengthAdjust="spacingAndGlyphs">66.10/(200)</text><text class="r" transform="translate(270.70,171.50) scale(0.84,1) rotate(-90)" font-size="14.2" textLength="62.80" lengthAdjust="spacingAndGlyphs">67.71/(112)</text><text class="r" transform="translate(279.20,193.30) scale(0.84,1) rotate(-90)" font-size="14.2" textLength="63.30" lengthAdjust="spacingAndGlyphs">68.85/(201)</text><text class="s" transform="translate(36.70,158.00) scale(0.85,1) rotate(-90)" font-size="13" textLength="32.50" lengthAdjust="spacingAndGlyphs">12.97</text><text class="s" transform="translate(471.00,133.30) scale(0.85,1) rotate(-90)" font-size="13" textLength="32.50" lengthAdjust="spacingAndGlyphs">31.66</text><text class="r" transform="translate(428.80,212.70) scale(0.82,1) rotate(-90)" font-size="14.5" textLength="32.30" lengthAdjust="spacingAndGlyphs">22.02</text><text class="r" transform="translate(35.2,266.6) scale(0.82,1) rotate(-45)" font-size="14.3" textLength="65" lengthAdjust="spacingAndGlyphs">12.93/(100)</text></g><g fill="#111"><ellipse cx="462.7" cy="144.7" rx="2.5" ry="3.0"/><ellipse cx="461.4" cy="186.9" rx="2.6" ry="3.1"/></g><path d="M540.00,92.80 L540.00,97.80 M537.73,94.05 L542.27,96.55 M542.27,94.05 L537.73,96.55" stroke="#222" stroke-width="1.05" stroke-linecap="round" fill="none"/><path d="M544.80,281.10 L544.80,286.10 M542.53,282.35 L547.07,284.85 M547.07,282.35 L542.53,284.85" stroke="#222" stroke-width="1.05" stroke-linecap="round" fill="none"/></svg></body></html>
